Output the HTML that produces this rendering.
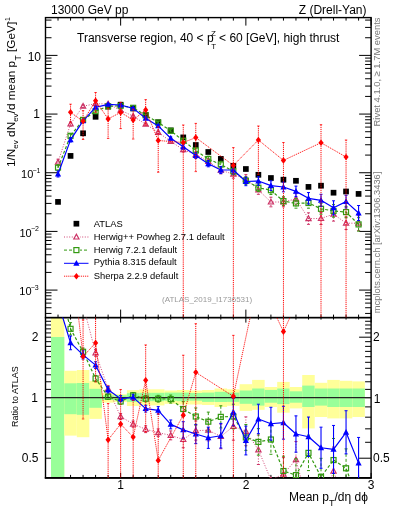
<!DOCTYPE html>
<html><head><meta charset="utf-8"><style>
html,body{margin:0;padding:0;background:#fff;width:393px;height:512px;overflow:hidden;position:relative;font-family:"Liberation Sans",sans-serif;}
</style></head><body>
<svg width="393" height="512" viewBox="0 0 393 512" style="position:absolute;left:0;top:0">
<defs><clipPath id="cm"><rect x="45.50" y="17.60" width="325.60" height="300.00"/></clipPath>
<clipPath id="cr"><rect x="45.50" y="317.60" width="325.60" height="160.30"/></clipPath></defs>
<line x1="45.50" y1="313.43" x2="51.50" y2="313.43" stroke="#000" stroke-width="1.00"/>
<line x1="371.10" y1="313.43" x2="365.10" y2="313.43" stroke="#000" stroke-width="1.00"/>
<line x1="45.50" y1="307.74" x2="51.50" y2="307.74" stroke="#000" stroke-width="1.00"/>
<line x1="371.10" y1="307.74" x2="365.10" y2="307.74" stroke="#000" stroke-width="1.00"/>
<line x1="45.50" y1="303.10" x2="51.50" y2="303.10" stroke="#000" stroke-width="1.00"/>
<line x1="371.10" y1="303.10" x2="365.10" y2="303.10" stroke="#000" stroke-width="1.00"/>
<line x1="45.50" y1="299.17" x2="51.50" y2="299.17" stroke="#000" stroke-width="1.00"/>
<line x1="371.10" y1="299.17" x2="365.10" y2="299.17" stroke="#000" stroke-width="1.00"/>
<line x1="45.50" y1="295.77" x2="51.50" y2="295.77" stroke="#000" stroke-width="1.00"/>
<line x1="371.10" y1="295.77" x2="365.10" y2="295.77" stroke="#000" stroke-width="1.00"/>
<line x1="45.50" y1="292.76" x2="51.50" y2="292.76" stroke="#000" stroke-width="1.00"/>
<line x1="371.10" y1="292.76" x2="365.10" y2="292.76" stroke="#000" stroke-width="1.00"/>
<line x1="45.50" y1="290.08" x2="57.50" y2="290.08" stroke="#000" stroke-width="1.00"/>
<line x1="371.10" y1="290.08" x2="359.10" y2="290.08" stroke="#000" stroke-width="1.00"/>
<line x1="45.50" y1="272.42" x2="51.50" y2="272.42" stroke="#000" stroke-width="1.00"/>
<line x1="371.10" y1="272.42" x2="365.10" y2="272.42" stroke="#000" stroke-width="1.00"/>
<line x1="45.50" y1="262.09" x2="51.50" y2="262.09" stroke="#000" stroke-width="1.00"/>
<line x1="371.10" y1="262.09" x2="365.10" y2="262.09" stroke="#000" stroke-width="1.00"/>
<line x1="45.50" y1="254.76" x2="51.50" y2="254.76" stroke="#000" stroke-width="1.00"/>
<line x1="371.10" y1="254.76" x2="365.10" y2="254.76" stroke="#000" stroke-width="1.00"/>
<line x1="45.50" y1="249.07" x2="51.50" y2="249.07" stroke="#000" stroke-width="1.00"/>
<line x1="371.10" y1="249.07" x2="365.10" y2="249.07" stroke="#000" stroke-width="1.00"/>
<line x1="45.50" y1="244.43" x2="51.50" y2="244.43" stroke="#000" stroke-width="1.00"/>
<line x1="371.10" y1="244.43" x2="365.10" y2="244.43" stroke="#000" stroke-width="1.00"/>
<line x1="45.50" y1="240.50" x2="51.50" y2="240.50" stroke="#000" stroke-width="1.00"/>
<line x1="371.10" y1="240.50" x2="365.10" y2="240.50" stroke="#000" stroke-width="1.00"/>
<line x1="45.50" y1="237.10" x2="51.50" y2="237.10" stroke="#000" stroke-width="1.00"/>
<line x1="371.10" y1="237.10" x2="365.10" y2="237.10" stroke="#000" stroke-width="1.00"/>
<line x1="45.50" y1="234.09" x2="51.50" y2="234.09" stroke="#000" stroke-width="1.00"/>
<line x1="371.10" y1="234.09" x2="365.10" y2="234.09" stroke="#000" stroke-width="1.00"/>
<line x1="45.50" y1="231.41" x2="57.50" y2="231.41" stroke="#000" stroke-width="1.00"/>
<line x1="371.10" y1="231.41" x2="359.10" y2="231.41" stroke="#000" stroke-width="1.00"/>
<line x1="45.50" y1="213.75" x2="51.50" y2="213.75" stroke="#000" stroke-width="1.00"/>
<line x1="371.10" y1="213.75" x2="365.10" y2="213.75" stroke="#000" stroke-width="1.00"/>
<line x1="45.50" y1="203.42" x2="51.50" y2="203.42" stroke="#000" stroke-width="1.00"/>
<line x1="371.10" y1="203.42" x2="365.10" y2="203.42" stroke="#000" stroke-width="1.00"/>
<line x1="45.50" y1="196.09" x2="51.50" y2="196.09" stroke="#000" stroke-width="1.00"/>
<line x1="371.10" y1="196.09" x2="365.10" y2="196.09" stroke="#000" stroke-width="1.00"/>
<line x1="45.50" y1="190.40" x2="51.50" y2="190.40" stroke="#000" stroke-width="1.00"/>
<line x1="371.10" y1="190.40" x2="365.10" y2="190.40" stroke="#000" stroke-width="1.00"/>
<line x1="45.50" y1="185.76" x2="51.50" y2="185.76" stroke="#000" stroke-width="1.00"/>
<line x1="371.10" y1="185.76" x2="365.10" y2="185.76" stroke="#000" stroke-width="1.00"/>
<line x1="45.50" y1="181.83" x2="51.50" y2="181.83" stroke="#000" stroke-width="1.00"/>
<line x1="371.10" y1="181.83" x2="365.10" y2="181.83" stroke="#000" stroke-width="1.00"/>
<line x1="45.50" y1="178.43" x2="51.50" y2="178.43" stroke="#000" stroke-width="1.00"/>
<line x1="371.10" y1="178.43" x2="365.10" y2="178.43" stroke="#000" stroke-width="1.00"/>
<line x1="45.50" y1="175.42" x2="51.50" y2="175.42" stroke="#000" stroke-width="1.00"/>
<line x1="371.10" y1="175.42" x2="365.10" y2="175.42" stroke="#000" stroke-width="1.00"/>
<line x1="45.50" y1="172.74" x2="57.50" y2="172.74" stroke="#000" stroke-width="1.00"/>
<line x1="371.10" y1="172.74" x2="359.10" y2="172.74" stroke="#000" stroke-width="1.00"/>
<line x1="45.50" y1="155.08" x2="51.50" y2="155.08" stroke="#000" stroke-width="1.00"/>
<line x1="371.10" y1="155.08" x2="365.10" y2="155.08" stroke="#000" stroke-width="1.00"/>
<line x1="45.50" y1="144.75" x2="51.50" y2="144.75" stroke="#000" stroke-width="1.00"/>
<line x1="371.10" y1="144.75" x2="365.10" y2="144.75" stroke="#000" stroke-width="1.00"/>
<line x1="45.50" y1="137.42" x2="51.50" y2="137.42" stroke="#000" stroke-width="1.00"/>
<line x1="371.10" y1="137.42" x2="365.10" y2="137.42" stroke="#000" stroke-width="1.00"/>
<line x1="45.50" y1="131.73" x2="51.50" y2="131.73" stroke="#000" stroke-width="1.00"/>
<line x1="371.10" y1="131.73" x2="365.10" y2="131.73" stroke="#000" stroke-width="1.00"/>
<line x1="45.50" y1="127.09" x2="51.50" y2="127.09" stroke="#000" stroke-width="1.00"/>
<line x1="371.10" y1="127.09" x2="365.10" y2="127.09" stroke="#000" stroke-width="1.00"/>
<line x1="45.50" y1="123.16" x2="51.50" y2="123.16" stroke="#000" stroke-width="1.00"/>
<line x1="371.10" y1="123.16" x2="365.10" y2="123.16" stroke="#000" stroke-width="1.00"/>
<line x1="45.50" y1="119.76" x2="51.50" y2="119.76" stroke="#000" stroke-width="1.00"/>
<line x1="371.10" y1="119.76" x2="365.10" y2="119.76" stroke="#000" stroke-width="1.00"/>
<line x1="45.50" y1="116.75" x2="51.50" y2="116.75" stroke="#000" stroke-width="1.00"/>
<line x1="371.10" y1="116.75" x2="365.10" y2="116.75" stroke="#000" stroke-width="1.00"/>
<line x1="45.50" y1="114.07" x2="57.50" y2="114.07" stroke="#000" stroke-width="1.00"/>
<line x1="371.10" y1="114.07" x2="359.10" y2="114.07" stroke="#000" stroke-width="1.00"/>
<line x1="45.50" y1="96.41" x2="51.50" y2="96.41" stroke="#000" stroke-width="1.00"/>
<line x1="371.10" y1="96.41" x2="365.10" y2="96.41" stroke="#000" stroke-width="1.00"/>
<line x1="45.50" y1="86.08" x2="51.50" y2="86.08" stroke="#000" stroke-width="1.00"/>
<line x1="371.10" y1="86.08" x2="365.10" y2="86.08" stroke="#000" stroke-width="1.00"/>
<line x1="45.50" y1="78.75" x2="51.50" y2="78.75" stroke="#000" stroke-width="1.00"/>
<line x1="371.10" y1="78.75" x2="365.10" y2="78.75" stroke="#000" stroke-width="1.00"/>
<line x1="45.50" y1="73.06" x2="51.50" y2="73.06" stroke="#000" stroke-width="1.00"/>
<line x1="371.10" y1="73.06" x2="365.10" y2="73.06" stroke="#000" stroke-width="1.00"/>
<line x1="45.50" y1="68.42" x2="51.50" y2="68.42" stroke="#000" stroke-width="1.00"/>
<line x1="371.10" y1="68.42" x2="365.10" y2="68.42" stroke="#000" stroke-width="1.00"/>
<line x1="45.50" y1="64.49" x2="51.50" y2="64.49" stroke="#000" stroke-width="1.00"/>
<line x1="371.10" y1="64.49" x2="365.10" y2="64.49" stroke="#000" stroke-width="1.00"/>
<line x1="45.50" y1="61.09" x2="51.50" y2="61.09" stroke="#000" stroke-width="1.00"/>
<line x1="371.10" y1="61.09" x2="365.10" y2="61.09" stroke="#000" stroke-width="1.00"/>
<line x1="45.50" y1="58.08" x2="51.50" y2="58.08" stroke="#000" stroke-width="1.00"/>
<line x1="371.10" y1="58.08" x2="365.10" y2="58.08" stroke="#000" stroke-width="1.00"/>
<line x1="45.50" y1="55.40" x2="57.50" y2="55.40" stroke="#000" stroke-width="1.00"/>
<line x1="371.10" y1="55.40" x2="359.10" y2="55.40" stroke="#000" stroke-width="1.00"/>
<line x1="45.50" y1="37.74" x2="51.50" y2="37.74" stroke="#000" stroke-width="1.00"/>
<line x1="371.10" y1="37.74" x2="365.10" y2="37.74" stroke="#000" stroke-width="1.00"/>
<line x1="45.50" y1="27.41" x2="51.50" y2="27.41" stroke="#000" stroke-width="1.00"/>
<line x1="371.10" y1="27.41" x2="365.10" y2="27.41" stroke="#000" stroke-width="1.00"/>
<line x1="45.50" y1="20.08" x2="51.50" y2="20.08" stroke="#000" stroke-width="1.00"/>
<line x1="371.10" y1="20.08" x2="365.10" y2="20.08" stroke="#000" stroke-width="1.00"/>
<line x1="45.50" y1="458.21" x2="57.50" y2="458.21" stroke="#000" stroke-width="1.00"/>
<line x1="371.10" y1="458.21" x2="359.10" y2="458.21" stroke="#000" stroke-width="1.00"/>
<line x1="45.50" y1="442.29" x2="51.50" y2="442.29" stroke="#000" stroke-width="1.00"/>
<line x1="371.10" y1="442.29" x2="365.10" y2="442.29" stroke="#000" stroke-width="1.00"/>
<line x1="45.50" y1="428.84" x2="51.50" y2="428.84" stroke="#000" stroke-width="1.00"/>
<line x1="371.10" y1="428.84" x2="365.10" y2="428.84" stroke="#000" stroke-width="1.00"/>
<line x1="45.50" y1="417.18" x2="51.50" y2="417.18" stroke="#000" stroke-width="1.00"/>
<line x1="371.10" y1="417.18" x2="365.10" y2="417.18" stroke="#000" stroke-width="1.00"/>
<line x1="45.50" y1="406.90" x2="51.50" y2="406.90" stroke="#000" stroke-width="1.00"/>
<line x1="371.10" y1="406.90" x2="365.10" y2="406.90" stroke="#000" stroke-width="1.00"/>
<line x1="45.50" y1="397.70" x2="57.50" y2="397.70" stroke="#000" stroke-width="1.00"/>
<line x1="371.10" y1="397.70" x2="359.10" y2="397.70" stroke="#000" stroke-width="1.00"/>
<line x1="45.50" y1="389.38" x2="51.50" y2="389.38" stroke="#000" stroke-width="1.00"/>
<line x1="371.10" y1="389.38" x2="365.10" y2="389.38" stroke="#000" stroke-width="1.00"/>
<line x1="45.50" y1="381.78" x2="51.50" y2="381.78" stroke="#000" stroke-width="1.00"/>
<line x1="371.10" y1="381.78" x2="365.10" y2="381.78" stroke="#000" stroke-width="1.00"/>
<line x1="45.50" y1="374.80" x2="51.50" y2="374.80" stroke="#000" stroke-width="1.00"/>
<line x1="371.10" y1="374.80" x2="365.10" y2="374.80" stroke="#000" stroke-width="1.00"/>
<line x1="45.50" y1="368.33" x2="51.50" y2="368.33" stroke="#000" stroke-width="1.00"/>
<line x1="371.10" y1="368.33" x2="365.10" y2="368.33" stroke="#000" stroke-width="1.00"/>
<line x1="45.50" y1="362.31" x2="51.50" y2="362.31" stroke="#000" stroke-width="1.00"/>
<line x1="371.10" y1="362.31" x2="365.10" y2="362.31" stroke="#000" stroke-width="1.00"/>
<line x1="45.50" y1="356.67" x2="51.50" y2="356.67" stroke="#000" stroke-width="1.00"/>
<line x1="371.10" y1="356.67" x2="365.10" y2="356.67" stroke="#000" stroke-width="1.00"/>
<line x1="45.50" y1="351.38" x2="51.50" y2="351.38" stroke="#000" stroke-width="1.00"/>
<line x1="371.10" y1="351.38" x2="365.10" y2="351.38" stroke="#000" stroke-width="1.00"/>
<line x1="45.50" y1="346.39" x2="51.50" y2="346.39" stroke="#000" stroke-width="1.00"/>
<line x1="371.10" y1="346.39" x2="365.10" y2="346.39" stroke="#000" stroke-width="1.00"/>
<line x1="45.50" y1="341.67" x2="51.50" y2="341.67" stroke="#000" stroke-width="1.00"/>
<line x1="371.10" y1="341.67" x2="365.10" y2="341.67" stroke="#000" stroke-width="1.00"/>
<line x1="45.50" y1="337.19" x2="57.50" y2="337.19" stroke="#000" stroke-width="1.00"/>
<line x1="371.10" y1="337.19" x2="359.10" y2="337.19" stroke="#000" stroke-width="1.00"/>
<line x1="45.50" y1="332.93" x2="51.50" y2="332.93" stroke="#000" stroke-width="1.00"/>
<line x1="371.10" y1="332.93" x2="365.10" y2="332.93" stroke="#000" stroke-width="1.00"/>
<line x1="45.50" y1="328.87" x2="51.50" y2="328.87" stroke="#000" stroke-width="1.00"/>
<line x1="371.10" y1="328.87" x2="365.10" y2="328.87" stroke="#000" stroke-width="1.00"/>
<line x1="45.50" y1="324.99" x2="51.50" y2="324.99" stroke="#000" stroke-width="1.00"/>
<line x1="371.10" y1="324.99" x2="365.10" y2="324.99" stroke="#000" stroke-width="1.00"/>
<line x1="45.50" y1="321.28" x2="51.50" y2="321.28" stroke="#000" stroke-width="1.00"/>
<line x1="371.10" y1="321.28" x2="365.10" y2="321.28" stroke="#000" stroke-width="1.00"/>
<line x1="45.50" y1="17.60" x2="45.50" y2="20.60" stroke="#000" stroke-width="1.00"/>
<line x1="45.50" y1="317.60" x2="45.50" y2="314.60" stroke="#000" stroke-width="1.00"/>
<line x1="45.50" y1="317.60" x2="45.50" y2="319.60" stroke="#000" stroke-width="1.00"/>
<line x1="45.50" y1="477.90" x2="45.50" y2="474.90" stroke="#000" stroke-width="1.00"/>
<line x1="58.02" y1="17.60" x2="58.02" y2="20.60" stroke="#000" stroke-width="1.00"/>
<line x1="58.02" y1="317.60" x2="58.02" y2="314.60" stroke="#000" stroke-width="1.00"/>
<line x1="58.02" y1="317.60" x2="58.02" y2="319.60" stroke="#000" stroke-width="1.00"/>
<line x1="58.02" y1="477.90" x2="58.02" y2="474.90" stroke="#000" stroke-width="1.00"/>
<line x1="70.55" y1="17.60" x2="70.55" y2="20.60" stroke="#000" stroke-width="1.00"/>
<line x1="70.55" y1="317.60" x2="70.55" y2="314.60" stroke="#000" stroke-width="1.00"/>
<line x1="70.55" y1="317.60" x2="70.55" y2="319.60" stroke="#000" stroke-width="1.00"/>
<line x1="70.55" y1="477.90" x2="70.55" y2="474.90" stroke="#000" stroke-width="1.00"/>
<line x1="83.07" y1="17.60" x2="83.07" y2="20.60" stroke="#000" stroke-width="1.00"/>
<line x1="83.07" y1="317.60" x2="83.07" y2="314.60" stroke="#000" stroke-width="1.00"/>
<line x1="83.07" y1="317.60" x2="83.07" y2="319.60" stroke="#000" stroke-width="1.00"/>
<line x1="83.07" y1="477.90" x2="83.07" y2="474.90" stroke="#000" stroke-width="1.00"/>
<line x1="95.59" y1="17.60" x2="95.59" y2="20.60" stroke="#000" stroke-width="1.00"/>
<line x1="95.59" y1="317.60" x2="95.59" y2="314.60" stroke="#000" stroke-width="1.00"/>
<line x1="95.59" y1="317.60" x2="95.59" y2="319.60" stroke="#000" stroke-width="1.00"/>
<line x1="95.59" y1="477.90" x2="95.59" y2="474.90" stroke="#000" stroke-width="1.00"/>
<line x1="108.12" y1="17.60" x2="108.12" y2="20.60" stroke="#000" stroke-width="1.00"/>
<line x1="108.12" y1="317.60" x2="108.12" y2="314.60" stroke="#000" stroke-width="1.00"/>
<line x1="108.12" y1="317.60" x2="108.12" y2="319.60" stroke="#000" stroke-width="1.00"/>
<line x1="108.12" y1="477.90" x2="108.12" y2="474.90" stroke="#000" stroke-width="1.00"/>
<line x1="120.64" y1="17.60" x2="120.64" y2="25.60" stroke="#000" stroke-width="1.00"/>
<line x1="120.64" y1="317.60" x2="120.64" y2="309.60" stroke="#000" stroke-width="1.00"/>
<line x1="120.64" y1="317.60" x2="120.64" y2="322.60" stroke="#000" stroke-width="1.00"/>
<line x1="120.64" y1="477.90" x2="120.64" y2="472.90" stroke="#000" stroke-width="1.00"/>
<line x1="133.16" y1="17.60" x2="133.16" y2="20.60" stroke="#000" stroke-width="1.00"/>
<line x1="133.16" y1="317.60" x2="133.16" y2="314.60" stroke="#000" stroke-width="1.00"/>
<line x1="133.16" y1="317.60" x2="133.16" y2="319.60" stroke="#000" stroke-width="1.00"/>
<line x1="133.16" y1="477.90" x2="133.16" y2="474.90" stroke="#000" stroke-width="1.00"/>
<line x1="145.68" y1="17.60" x2="145.68" y2="20.60" stroke="#000" stroke-width="1.00"/>
<line x1="145.68" y1="317.60" x2="145.68" y2="314.60" stroke="#000" stroke-width="1.00"/>
<line x1="145.68" y1="317.60" x2="145.68" y2="319.60" stroke="#000" stroke-width="1.00"/>
<line x1="145.68" y1="477.90" x2="145.68" y2="474.90" stroke="#000" stroke-width="1.00"/>
<line x1="158.21" y1="17.60" x2="158.21" y2="20.60" stroke="#000" stroke-width="1.00"/>
<line x1="158.21" y1="317.60" x2="158.21" y2="314.60" stroke="#000" stroke-width="1.00"/>
<line x1="158.21" y1="317.60" x2="158.21" y2="319.60" stroke="#000" stroke-width="1.00"/>
<line x1="158.21" y1="477.90" x2="158.21" y2="474.90" stroke="#000" stroke-width="1.00"/>
<line x1="170.73" y1="17.60" x2="170.73" y2="20.60" stroke="#000" stroke-width="1.00"/>
<line x1="170.73" y1="317.60" x2="170.73" y2="314.60" stroke="#000" stroke-width="1.00"/>
<line x1="170.73" y1="317.60" x2="170.73" y2="319.60" stroke="#000" stroke-width="1.00"/>
<line x1="170.73" y1="477.90" x2="170.73" y2="474.90" stroke="#000" stroke-width="1.00"/>
<line x1="183.25" y1="17.60" x2="183.25" y2="20.60" stroke="#000" stroke-width="1.00"/>
<line x1="183.25" y1="317.60" x2="183.25" y2="314.60" stroke="#000" stroke-width="1.00"/>
<line x1="183.25" y1="317.60" x2="183.25" y2="319.60" stroke="#000" stroke-width="1.00"/>
<line x1="183.25" y1="477.90" x2="183.25" y2="474.90" stroke="#000" stroke-width="1.00"/>
<line x1="195.78" y1="17.60" x2="195.78" y2="20.60" stroke="#000" stroke-width="1.00"/>
<line x1="195.78" y1="317.60" x2="195.78" y2="314.60" stroke="#000" stroke-width="1.00"/>
<line x1="195.78" y1="317.60" x2="195.78" y2="319.60" stroke="#000" stroke-width="1.00"/>
<line x1="195.78" y1="477.90" x2="195.78" y2="474.90" stroke="#000" stroke-width="1.00"/>
<line x1="208.30" y1="17.60" x2="208.30" y2="20.60" stroke="#000" stroke-width="1.00"/>
<line x1="208.30" y1="317.60" x2="208.30" y2="314.60" stroke="#000" stroke-width="1.00"/>
<line x1="208.30" y1="317.60" x2="208.30" y2="319.60" stroke="#000" stroke-width="1.00"/>
<line x1="208.30" y1="477.90" x2="208.30" y2="474.90" stroke="#000" stroke-width="1.00"/>
<line x1="220.82" y1="17.60" x2="220.82" y2="20.60" stroke="#000" stroke-width="1.00"/>
<line x1="220.82" y1="317.60" x2="220.82" y2="314.60" stroke="#000" stroke-width="1.00"/>
<line x1="220.82" y1="317.60" x2="220.82" y2="319.60" stroke="#000" stroke-width="1.00"/>
<line x1="220.82" y1="477.90" x2="220.82" y2="474.90" stroke="#000" stroke-width="1.00"/>
<line x1="233.35" y1="17.60" x2="233.35" y2="20.60" stroke="#000" stroke-width="1.00"/>
<line x1="233.35" y1="317.60" x2="233.35" y2="314.60" stroke="#000" stroke-width="1.00"/>
<line x1="233.35" y1="317.60" x2="233.35" y2="319.60" stroke="#000" stroke-width="1.00"/>
<line x1="233.35" y1="477.90" x2="233.35" y2="474.90" stroke="#000" stroke-width="1.00"/>
<line x1="245.87" y1="17.60" x2="245.87" y2="25.60" stroke="#000" stroke-width="1.00"/>
<line x1="245.87" y1="317.60" x2="245.87" y2="309.60" stroke="#000" stroke-width="1.00"/>
<line x1="245.87" y1="317.60" x2="245.87" y2="322.60" stroke="#000" stroke-width="1.00"/>
<line x1="245.87" y1="477.90" x2="245.87" y2="472.90" stroke="#000" stroke-width="1.00"/>
<line x1="258.39" y1="17.60" x2="258.39" y2="20.60" stroke="#000" stroke-width="1.00"/>
<line x1="258.39" y1="317.60" x2="258.39" y2="314.60" stroke="#000" stroke-width="1.00"/>
<line x1="258.39" y1="317.60" x2="258.39" y2="319.60" stroke="#000" stroke-width="1.00"/>
<line x1="258.39" y1="477.90" x2="258.39" y2="474.90" stroke="#000" stroke-width="1.00"/>
<line x1="270.92" y1="17.60" x2="270.92" y2="20.60" stroke="#000" stroke-width="1.00"/>
<line x1="270.92" y1="317.60" x2="270.92" y2="314.60" stroke="#000" stroke-width="1.00"/>
<line x1="270.92" y1="317.60" x2="270.92" y2="319.60" stroke="#000" stroke-width="1.00"/>
<line x1="270.92" y1="477.90" x2="270.92" y2="474.90" stroke="#000" stroke-width="1.00"/>
<line x1="283.44" y1="17.60" x2="283.44" y2="20.60" stroke="#000" stroke-width="1.00"/>
<line x1="283.44" y1="317.60" x2="283.44" y2="314.60" stroke="#000" stroke-width="1.00"/>
<line x1="283.44" y1="317.60" x2="283.44" y2="319.60" stroke="#000" stroke-width="1.00"/>
<line x1="283.44" y1="477.90" x2="283.44" y2="474.90" stroke="#000" stroke-width="1.00"/>
<line x1="295.96" y1="17.60" x2="295.96" y2="20.60" stroke="#000" stroke-width="1.00"/>
<line x1="295.96" y1="317.60" x2="295.96" y2="314.60" stroke="#000" stroke-width="1.00"/>
<line x1="295.96" y1="317.60" x2="295.96" y2="319.60" stroke="#000" stroke-width="1.00"/>
<line x1="295.96" y1="477.90" x2="295.96" y2="474.90" stroke="#000" stroke-width="1.00"/>
<line x1="308.48" y1="17.60" x2="308.48" y2="20.60" stroke="#000" stroke-width="1.00"/>
<line x1="308.48" y1="317.60" x2="308.48" y2="314.60" stroke="#000" stroke-width="1.00"/>
<line x1="308.48" y1="317.60" x2="308.48" y2="319.60" stroke="#000" stroke-width="1.00"/>
<line x1="308.48" y1="477.90" x2="308.48" y2="474.90" stroke="#000" stroke-width="1.00"/>
<line x1="321.01" y1="17.60" x2="321.01" y2="20.60" stroke="#000" stroke-width="1.00"/>
<line x1="321.01" y1="317.60" x2="321.01" y2="314.60" stroke="#000" stroke-width="1.00"/>
<line x1="321.01" y1="317.60" x2="321.01" y2="319.60" stroke="#000" stroke-width="1.00"/>
<line x1="321.01" y1="477.90" x2="321.01" y2="474.90" stroke="#000" stroke-width="1.00"/>
<line x1="333.53" y1="17.60" x2="333.53" y2="20.60" stroke="#000" stroke-width="1.00"/>
<line x1="333.53" y1="317.60" x2="333.53" y2="314.60" stroke="#000" stroke-width="1.00"/>
<line x1="333.53" y1="317.60" x2="333.53" y2="319.60" stroke="#000" stroke-width="1.00"/>
<line x1="333.53" y1="477.90" x2="333.53" y2="474.90" stroke="#000" stroke-width="1.00"/>
<line x1="346.05" y1="17.60" x2="346.05" y2="20.60" stroke="#000" stroke-width="1.00"/>
<line x1="346.05" y1="317.60" x2="346.05" y2="314.60" stroke="#000" stroke-width="1.00"/>
<line x1="346.05" y1="317.60" x2="346.05" y2="319.60" stroke="#000" stroke-width="1.00"/>
<line x1="346.05" y1="477.90" x2="346.05" y2="474.90" stroke="#000" stroke-width="1.00"/>
<line x1="358.58" y1="17.60" x2="358.58" y2="20.60" stroke="#000" stroke-width="1.00"/>
<line x1="358.58" y1="317.60" x2="358.58" y2="314.60" stroke="#000" stroke-width="1.00"/>
<line x1="358.58" y1="317.60" x2="358.58" y2="319.60" stroke="#000" stroke-width="1.00"/>
<line x1="358.58" y1="477.90" x2="358.58" y2="474.90" stroke="#000" stroke-width="1.00"/>
<line x1="371.10" y1="17.60" x2="371.10" y2="25.60" stroke="#000" stroke-width="1.00"/>
<line x1="371.10" y1="317.60" x2="371.10" y2="309.60" stroke="#000" stroke-width="1.00"/>
<line x1="371.10" y1="317.60" x2="371.10" y2="322.60" stroke="#000" stroke-width="1.00"/>
<line x1="371.10" y1="477.90" x2="371.10" y2="472.90" stroke="#000" stroke-width="1.00"/>
<g clip-path="url(#cr)">
<rect x="51.00" y="317.60" width="13.28" height="160.30" fill="#ffff99"/>
<rect x="51.00" y="337.00" width="13.28" height="140.90" fill="#99ff99"/>
<rect x="64.28" y="370.80" width="12.52" height="64.80" fill="#ffff99"/>
<rect x="64.28" y="383.30" width="12.52" height="30.90" fill="#99ff99"/>
<rect x="76.81" y="370.00" width="12.52" height="67.20" fill="#ffff99"/>
<rect x="76.81" y="383.00" width="12.52" height="31.80" fill="#99ff99"/>
<rect x="89.33" y="380.90" width="12.52" height="38.00" fill="#ffff99"/>
<rect x="89.33" y="388.80" width="12.52" height="19.00" fill="#99ff99"/>
<rect x="101.85" y="393.00" width="12.52" height="9.60" fill="#ffff99"/>
<rect x="101.85" y="395.30" width="12.52" height="4.70" fill="#99ff99"/>
<rect x="114.38" y="394.20" width="12.52" height="7.70" fill="#ffff99"/>
<rect x="114.38" y="395.30" width="12.52" height="5.10" fill="#99ff99"/>
<rect x="126.90" y="390.20" width="12.52" height="15.80" fill="#ffff99"/>
<rect x="126.90" y="393.20" width="12.52" height="8.70" fill="#99ff99"/>
<rect x="139.42" y="389.30" width="12.52" height="16.10" fill="#ffff99"/>
<rect x="139.42" y="392.80" width="12.52" height="8.40" fill="#99ff99"/>
<rect x="151.95" y="389.30" width="12.52" height="16.10" fill="#ffff99"/>
<rect x="151.95" y="392.80" width="12.52" height="8.40" fill="#99ff99"/>
<rect x="164.47" y="390.50" width="12.52" height="13.30" fill="#ffff99"/>
<rect x="164.47" y="392.60" width="12.52" height="8.10" fill="#99ff99"/>
<rect x="176.99" y="390.00" width="12.52" height="14.50" fill="#ffff99"/>
<rect x="176.99" y="392.60" width="12.52" height="8.60" fill="#99ff99"/>
<rect x="189.52" y="390.50" width="12.52" height="14.00" fill="#ffff99"/>
<rect x="189.52" y="393.00" width="12.52" height="7.70" fill="#99ff99"/>
<rect x="202.04" y="390.00" width="12.52" height="15.00" fill="#ffff99"/>
<rect x="202.04" y="392.60" width="12.52" height="9.30" fill="#99ff99"/>
<rect x="214.56" y="388.50" width="12.52" height="18.50" fill="#ffff99"/>
<rect x="214.56" y="391.80" width="12.52" height="10.20" fill="#99ff99"/>
<rect x="227.08" y="389.30" width="12.52" height="16.50" fill="#ffff99"/>
<rect x="227.08" y="392.60" width="12.52" height="9.30" fill="#99ff99"/>
<rect x="239.61" y="384.20" width="12.52" height="26.70" fill="#ffff99"/>
<rect x="239.61" y="390.50" width="12.52" height="13.30" fill="#99ff99"/>
<rect x="252.13" y="379.90" width="12.52" height="29.90" fill="#ffff99"/>
<rect x="252.13" y="388.50" width="12.52" height="17.10" fill="#99ff99"/>
<rect x="264.65" y="387.00" width="12.52" height="20.00" fill="#ffff99"/>
<rect x="264.65" y="389.90" width="12.52" height="12.80" fill="#99ff99"/>
<rect x="277.18" y="381.90" width="12.52" height="30.80" fill="#ffff99"/>
<rect x="277.18" y="388.50" width="12.52" height="15.60" fill="#99ff99"/>
<rect x="289.70" y="387.00" width="12.52" height="21.40" fill="#ffff99"/>
<rect x="289.70" y="391.30" width="12.52" height="11.40" fill="#99ff99"/>
<rect x="302.22" y="375.00" width="12.52" height="53.40" fill="#ffff99"/>
<rect x="302.22" y="385.60" width="12.52" height="21.40" fill="#99ff99"/>
<rect x="314.75" y="382.80" width="12.52" height="34.20" fill="#ffff99"/>
<rect x="314.75" y="388.50" width="12.52" height="17.10" fill="#99ff99"/>
<rect x="327.27" y="379.90" width="12.52" height="38.50" fill="#ffff99"/>
<rect x="327.27" y="388.50" width="12.52" height="18.50" fill="#99ff99"/>
<rect x="339.79" y="380.80" width="12.52" height="37.60" fill="#ffff99"/>
<rect x="339.79" y="388.50" width="12.52" height="18.50" fill="#99ff99"/>
<rect x="352.32" y="381.40" width="12.52" height="35.60" fill="#ffff99"/>
<rect x="352.32" y="388.50" width="12.52" height="18.50" fill="#99ff99"/>
<line x1="45.50" y1="397.7" x2="371.10" y2="397.7" stroke="#222" stroke-width="1.2"/>
</g>
<rect x="45.50" y="17.60" width="325.60" height="300.00" fill="none" stroke="#000" stroke-width="1.4"/>
<rect x="45.50" y="317.60" width="325.60" height="160.30" fill="none" stroke="#000" stroke-width="1.4"/>
<line x1="44.80" y1="477.90" x2="371.80" y2="477.90" stroke="#000" stroke-width="1.8"/>
<g clip-path="url(#cm)"><rect x="55.17" y="199.05" width="5.7" height="5.7" fill="#000"/><rect x="67.70" y="153.05" width="5.7" height="5.7" fill="#000"/><rect x="80.22" y="130.45" width="5.7" height="5.7" fill="#000"/><rect x="92.74" y="113.95" width="5.7" height="5.7" fill="#000"/><rect x="105.27" y="103.75" width="5.7" height="5.7" fill="#000"/><rect x="117.79" y="101.85" width="5.7" height="5.7" fill="#000"/><rect x="130.31" y="105.65" width="5.7" height="5.7" fill="#000"/><rect x="142.83" y="112.15" width="5.7" height="5.7" fill="#000"/><rect x="155.36" y="119.35" width="5.7" height="5.7" fill="#000"/><rect x="167.88" y="127.55" width="5.7" height="5.7" fill="#000"/><rect x="180.40" y="134.55" width="5.7" height="5.7" fill="#000"/><rect x="192.93" y="142.15" width="5.7" height="5.7" fill="#000"/><rect x="205.45" y="149.15" width="5.7" height="5.7" fill="#000"/><rect x="217.97" y="156.05" width="5.7" height="5.7" fill="#000"/><rect x="230.50" y="162.95" width="5.7" height="5.7" fill="#000"/><rect x="243.02" y="166.15" width="5.7" height="5.7" fill="#000"/><rect x="255.54" y="171.95" width="5.7" height="5.7" fill="#000"/><rect x="268.07" y="175.15" width="5.7" height="5.7" fill="#000"/><rect x="280.59" y="176.85" width="5.7" height="5.7" fill="#000"/><rect x="293.11" y="177.95" width="5.7" height="5.7" fill="#000"/><rect x="305.63" y="184.05" width="5.7" height="5.7" fill="#000"/><rect x="318.16" y="182.85" width="5.7" height="5.7" fill="#000"/><rect x="330.68" y="189.85" width="5.7" height="5.7" fill="#000"/><rect x="343.20" y="188.65" width="5.7" height="5.7" fill="#000"/><rect x="355.73" y="191.05" width="5.7" height="5.7" fill="#000"/></g>
<g clip-path="url(#cm)"><polyline points="58.02,162.20 70.55,124.00 83.07,106.20 95.59,103.70 108.12,104.00 120.64,110.20 133.16,116.20 145.68,124.20 158.21,132.40 170.73,141.40 183.25,149.60 195.78,154.60 208.30,161.50 220.82,170.20 233.35,174.20 245.87,178.80 258.39,190.00 270.92,202.00 283.44,202.00 295.96,198.90 308.48,218.60 321.01,218.50 333.53,214.10 346.05,223.20 358.58,223.20" fill="none" stroke="#cc3366" stroke-width="0.90" stroke-dasharray="1,1.6" stroke-linejoin="round"/><line x1="58.02" y1="159.20" x2="58.02" y2="165.20" stroke="#cc3366" stroke-width="1.00" stroke-dasharray="1,1.6"/><line x1="56.52" y1="159.20" x2="59.52" y2="159.20" stroke="#cc3366" stroke-width="1.00"/><line x1="56.52" y1="165.20" x2="59.52" y2="165.20" stroke="#cc3366" stroke-width="1.00"/><line x1="70.55" y1="122.00" x2="70.55" y2="126.00" stroke="#cc3366" stroke-width="1.00" stroke-dasharray="1,1.6"/><line x1="69.05" y1="122.00" x2="72.05" y2="122.00" stroke="#cc3366" stroke-width="1.00"/><line x1="69.05" y1="126.00" x2="72.05" y2="126.00" stroke="#cc3366" stroke-width="1.00"/><line x1="83.07" y1="105.00" x2="83.07" y2="107.40" stroke="#cc3366" stroke-width="1.00" stroke-dasharray="1,1.6"/><line x1="81.57" y1="105.00" x2="84.57" y2="105.00" stroke="#cc3366" stroke-width="1.00"/><line x1="81.57" y1="107.40" x2="84.57" y2="107.40" stroke="#cc3366" stroke-width="1.00"/><line x1="95.59" y1="102.70" x2="95.59" y2="104.70" stroke="#cc3366" stroke-width="1.00" stroke-dasharray="1,1.6"/><line x1="94.09" y1="102.70" x2="97.09" y2="102.70" stroke="#cc3366" stroke-width="1.00"/><line x1="94.09" y1="104.70" x2="97.09" y2="104.70" stroke="#cc3366" stroke-width="1.00"/><line x1="108.12" y1="103.10" x2="108.12" y2="104.90" stroke="#cc3366" stroke-width="1.00" stroke-dasharray="1,1.6"/><line x1="106.62" y1="103.10" x2="109.62" y2="103.10" stroke="#cc3366" stroke-width="1.00"/><line x1="106.62" y1="104.90" x2="109.62" y2="104.90" stroke="#cc3366" stroke-width="1.00"/><line x1="120.64" y1="109.30" x2="120.64" y2="111.10" stroke="#cc3366" stroke-width="1.00" stroke-dasharray="1,1.6"/><line x1="119.14" y1="109.30" x2="122.14" y2="109.30" stroke="#cc3366" stroke-width="1.00"/><line x1="119.14" y1="111.10" x2="122.14" y2="111.10" stroke="#cc3366" stroke-width="1.00"/><line x1="133.16" y1="115.30" x2="133.16" y2="117.10" stroke="#cc3366" stroke-width="1.00" stroke-dasharray="1,1.6"/><line x1="131.66" y1="115.30" x2="134.66" y2="115.30" stroke="#cc3366" stroke-width="1.00"/><line x1="131.66" y1="117.10" x2="134.66" y2="117.10" stroke="#cc3366" stroke-width="1.00"/><line x1="145.68" y1="123.20" x2="145.68" y2="125.20" stroke="#cc3366" stroke-width="1.00" stroke-dasharray="1,1.6"/><line x1="144.18" y1="123.20" x2="147.18" y2="123.20" stroke="#cc3366" stroke-width="1.00"/><line x1="144.18" y1="125.20" x2="147.18" y2="125.20" stroke="#cc3366" stroke-width="1.00"/><line x1="158.21" y1="131.30" x2="158.21" y2="133.50" stroke="#cc3366" stroke-width="1.00" stroke-dasharray="1,1.6"/><line x1="156.71" y1="131.30" x2="159.71" y2="131.30" stroke="#cc3366" stroke-width="1.00"/><line x1="156.71" y1="133.50" x2="159.71" y2="133.50" stroke="#cc3366" stroke-width="1.00"/><line x1="170.73" y1="140.10" x2="170.73" y2="142.70" stroke="#cc3366" stroke-width="1.00" stroke-dasharray="1,1.6"/><line x1="169.23" y1="140.10" x2="172.23" y2="140.10" stroke="#cc3366" stroke-width="1.00"/><line x1="169.23" y1="142.70" x2="172.23" y2="142.70" stroke="#cc3366" stroke-width="1.00"/><line x1="183.25" y1="147.20" x2="183.25" y2="152.00" stroke="#cc3366" stroke-width="1.00" stroke-dasharray="1,1.6"/><line x1="181.75" y1="147.20" x2="184.75" y2="147.20" stroke="#cc3366" stroke-width="1.00"/><line x1="181.75" y1="152.00" x2="184.75" y2="152.00" stroke="#cc3366" stroke-width="1.00"/><line x1="195.78" y1="151.80" x2="195.78" y2="157.40" stroke="#cc3366" stroke-width="1.00" stroke-dasharray="1,1.6"/><line x1="194.28" y1="151.80" x2="197.28" y2="151.80" stroke="#cc3366" stroke-width="1.00"/><line x1="194.28" y1="157.40" x2="197.28" y2="157.40" stroke="#cc3366" stroke-width="1.00"/><line x1="208.30" y1="158.40" x2="208.30" y2="164.60" stroke="#cc3366" stroke-width="1.00" stroke-dasharray="1,1.6"/><line x1="206.80" y1="158.40" x2="209.80" y2="158.40" stroke="#cc3366" stroke-width="1.00"/><line x1="206.80" y1="164.60" x2="209.80" y2="164.60" stroke="#cc3366" stroke-width="1.00"/><line x1="220.82" y1="166.60" x2="220.82" y2="173.80" stroke="#cc3366" stroke-width="1.00" stroke-dasharray="1,1.6"/><line x1="219.32" y1="166.60" x2="222.32" y2="166.60" stroke="#cc3366" stroke-width="1.00"/><line x1="219.32" y1="173.80" x2="222.32" y2="173.80" stroke="#cc3366" stroke-width="1.00"/><line x1="233.35" y1="170.20" x2="233.35" y2="178.20" stroke="#cc3366" stroke-width="1.00" stroke-dasharray="1,1.6"/><line x1="231.85" y1="170.20" x2="234.85" y2="170.20" stroke="#cc3366" stroke-width="1.00"/><line x1="231.85" y1="178.20" x2="234.85" y2="178.20" stroke="#cc3366" stroke-width="1.00"/><line x1="245.87" y1="174.60" x2="245.87" y2="183.00" stroke="#cc3366" stroke-width="1.00" stroke-dasharray="1,1.6"/><line x1="244.37" y1="174.60" x2="247.37" y2="174.60" stroke="#cc3366" stroke-width="1.00"/><line x1="244.37" y1="183.00" x2="247.37" y2="183.00" stroke="#cc3366" stroke-width="1.00"/><line x1="258.39" y1="185.70" x2="258.39" y2="194.30" stroke="#cc3366" stroke-width="1.00" stroke-dasharray="1,1.6"/><line x1="256.89" y1="185.70" x2="259.89" y2="185.70" stroke="#cc3366" stroke-width="1.00"/><line x1="256.89" y1="194.30" x2="259.89" y2="194.30" stroke="#cc3366" stroke-width="1.00"/><line x1="270.92" y1="197.20" x2="270.92" y2="206.80" stroke="#cc3366" stroke-width="1.00" stroke-dasharray="1,1.6"/><line x1="269.42" y1="197.20" x2="272.42" y2="197.20" stroke="#cc3366" stroke-width="1.00"/><line x1="269.42" y1="206.80" x2="272.42" y2="206.80" stroke="#cc3366" stroke-width="1.00"/><line x1="283.44" y1="197.20" x2="283.44" y2="206.80" stroke="#cc3366" stroke-width="1.00" stroke-dasharray="1,1.6"/><line x1="281.94" y1="197.20" x2="284.94" y2="197.20" stroke="#cc3366" stroke-width="1.00"/><line x1="281.94" y1="206.80" x2="284.94" y2="206.80" stroke="#cc3366" stroke-width="1.00"/><line x1="295.96" y1="193.60" x2="295.96" y2="204.20" stroke="#cc3366" stroke-width="1.00" stroke-dasharray="1,1.6"/><line x1="294.46" y1="193.60" x2="297.46" y2="193.60" stroke="#cc3366" stroke-width="1.00"/><line x1="294.46" y1="204.20" x2="297.46" y2="204.20" stroke="#cc3366" stroke-width="1.00"/><line x1="308.48" y1="212.85" x2="308.48" y2="224.35" stroke="#cc3366" stroke-width="1.00" stroke-dasharray="1,1.6"/><line x1="306.98" y1="212.85" x2="309.98" y2="212.85" stroke="#cc3366" stroke-width="1.00"/><line x1="306.98" y1="224.35" x2="309.98" y2="224.35" stroke="#cc3366" stroke-width="1.00"/><line x1="321.01" y1="212.50" x2="321.01" y2="224.50" stroke="#cc3366" stroke-width="1.00" stroke-dasharray="1,1.6"/><line x1="319.51" y1="212.50" x2="322.51" y2="212.50" stroke="#cc3366" stroke-width="1.00"/><line x1="319.51" y1="224.50" x2="322.51" y2="224.50" stroke="#cc3366" stroke-width="1.00"/><line x1="333.53" y1="207.10" x2="333.53" y2="221.10" stroke="#cc3366" stroke-width="1.00" stroke-dasharray="1,1.6"/><line x1="332.03" y1="207.10" x2="335.03" y2="207.10" stroke="#cc3366" stroke-width="1.00"/><line x1="332.03" y1="221.10" x2="335.03" y2="221.10" stroke="#cc3366" stroke-width="1.00"/><line x1="346.05" y1="216.90" x2="346.05" y2="229.50" stroke="#cc3366" stroke-width="1.00" stroke-dasharray="1,1.6"/><line x1="344.55" y1="216.90" x2="347.55" y2="216.90" stroke="#cc3366" stroke-width="1.00"/><line x1="344.55" y1="229.50" x2="347.55" y2="229.50" stroke="#cc3366" stroke-width="1.00"/><line x1="358.58" y1="215.70" x2="358.58" y2="230.70" stroke="#cc3366" stroke-width="1.00" stroke-dasharray="1,1.6"/><line x1="357.08" y1="215.70" x2="360.08" y2="215.70" stroke="#cc3366" stroke-width="1.00"/><line x1="357.08" y1="230.70" x2="360.08" y2="230.70" stroke="#cc3366" stroke-width="1.00"/><path d="M55.42,164.22 L60.62,164.22 L58.02,159.42 Z" fill="none" stroke="#cc3366" stroke-width="1.2"/><path d="M67.95,126.02 L73.15,126.02 L70.55,121.22 Z" fill="none" stroke="#cc3366" stroke-width="1.2"/><path d="M80.47,108.22 L85.67,108.22 L83.07,103.42 Z" fill="none" stroke="#cc3366" stroke-width="1.2"/><path d="M92.99,105.72 L98.19,105.72 L95.59,100.92 Z" fill="none" stroke="#cc3366" stroke-width="1.2"/><path d="M105.52,106.02 L110.72,106.02 L108.12,101.22 Z" fill="none" stroke="#cc3366" stroke-width="1.2"/><path d="M118.04,112.22 L123.24,112.22 L120.64,107.42 Z" fill="none" stroke="#cc3366" stroke-width="1.2"/><path d="M130.56,118.22 L135.76,118.22 L133.16,113.42 Z" fill="none" stroke="#cc3366" stroke-width="1.2"/><path d="M143.08,126.22 L148.28,126.22 L145.68,121.42 Z" fill="none" stroke="#cc3366" stroke-width="1.2"/><path d="M155.61,134.42 L160.81,134.42 L158.21,129.62 Z" fill="none" stroke="#cc3366" stroke-width="1.2"/><path d="M168.13,143.42 L173.33,143.42 L170.73,138.62 Z" fill="none" stroke="#cc3366" stroke-width="1.2"/><path d="M180.65,151.62 L185.85,151.62 L183.25,146.82 Z" fill="none" stroke="#cc3366" stroke-width="1.2"/><path d="M193.18,156.62 L198.38,156.62 L195.78,151.82 Z" fill="none" stroke="#cc3366" stroke-width="1.2"/><path d="M205.70,163.52 L210.90,163.52 L208.30,158.72 Z" fill="none" stroke="#cc3366" stroke-width="1.2"/><path d="M218.22,172.22 L223.42,172.22 L220.82,167.42 Z" fill="none" stroke="#cc3366" stroke-width="1.2"/><path d="M230.75,176.22 L235.95,176.22 L233.35,171.42 Z" fill="none" stroke="#cc3366" stroke-width="1.2"/><path d="M243.27,180.82 L248.47,180.82 L245.87,176.02 Z" fill="none" stroke="#cc3366" stroke-width="1.2"/><path d="M255.79,192.02 L260.99,192.02 L258.39,187.22 Z" fill="none" stroke="#cc3366" stroke-width="1.2"/><path d="M268.32,204.02 L273.52,204.02 L270.92,199.22 Z" fill="none" stroke="#cc3366" stroke-width="1.2"/><path d="M280.84,204.02 L286.04,204.02 L283.44,199.22 Z" fill="none" stroke="#cc3366" stroke-width="1.2"/><path d="M293.36,200.92 L298.56,200.92 L295.96,196.12 Z" fill="none" stroke="#cc3366" stroke-width="1.2"/><path d="M305.88,220.62 L311.08,220.62 L308.48,215.82 Z" fill="none" stroke="#cc3366" stroke-width="1.2"/><path d="M318.41,220.52 L323.61,220.52 L321.01,215.72 Z" fill="none" stroke="#cc3366" stroke-width="1.2"/><path d="M330.93,216.12 L336.13,216.12 L333.53,211.32 Z" fill="none" stroke="#cc3366" stroke-width="1.2"/><path d="M343.45,225.22 L348.65,225.22 L346.05,220.42 Z" fill="none" stroke="#cc3366" stroke-width="1.2"/><path d="M355.98,225.22 L361.18,225.22 L358.58,220.42 Z" fill="none" stroke="#cc3366" stroke-width="1.2"/></g>
<g clip-path="url(#cm)"><polyline points="58.02,167.60 70.55,135.80 83.07,119.90 95.59,111.20 108.12,106.30 120.64,105.80 133.16,107.80 145.68,115.30 158.21,122.50 170.73,130.80 183.25,140.70 195.78,150.50 208.30,159.00 220.82,164.50 233.35,171.30 245.87,180.60 258.39,187.70 270.92,190.20 283.44,201.10 295.96,203.40 308.48,203.00 321.01,208.80 333.53,210.90 346.05,212.10 358.58,224.40" fill="none" stroke="#339911" stroke-width="1.20" stroke-dasharray="3,2" stroke-linejoin="round"/><line x1="58.02" y1="164.90" x2="58.02" y2="170.30" stroke="#339911" stroke-width="1.00" stroke-dasharray="3,2"/><line x1="56.52" y1="164.90" x2="59.52" y2="164.90" stroke="#339911" stroke-width="1.00"/><line x1="56.52" y1="170.30" x2="59.52" y2="170.30" stroke="#339911" stroke-width="1.00"/><line x1="70.55" y1="134.00" x2="70.55" y2="137.60" stroke="#339911" stroke-width="1.00" stroke-dasharray="3,2"/><line x1="69.05" y1="134.00" x2="72.05" y2="134.00" stroke="#339911" stroke-width="1.00"/><line x1="69.05" y1="137.60" x2="72.05" y2="137.60" stroke="#339911" stroke-width="1.00"/><line x1="83.07" y1="118.82" x2="83.07" y2="120.98" stroke="#339911" stroke-width="1.00" stroke-dasharray="3,2"/><line x1="81.57" y1="118.82" x2="84.57" y2="118.82" stroke="#339911" stroke-width="1.00"/><line x1="81.57" y1="120.98" x2="84.57" y2="120.98" stroke="#339911" stroke-width="1.00"/><line x1="95.59" y1="110.30" x2="95.59" y2="112.10" stroke="#339911" stroke-width="1.00" stroke-dasharray="3,2"/><line x1="94.09" y1="110.30" x2="97.09" y2="110.30" stroke="#339911" stroke-width="1.00"/><line x1="94.09" y1="112.10" x2="97.09" y2="112.10" stroke="#339911" stroke-width="1.00"/><line x1="108.12" y1="105.49" x2="108.12" y2="107.11" stroke="#339911" stroke-width="1.00" stroke-dasharray="3,2"/><line x1="106.62" y1="105.49" x2="109.62" y2="105.49" stroke="#339911" stroke-width="1.00"/><line x1="106.62" y1="107.11" x2="109.62" y2="107.11" stroke="#339911" stroke-width="1.00"/><line x1="120.64" y1="104.99" x2="120.64" y2="106.61" stroke="#339911" stroke-width="1.00" stroke-dasharray="3,2"/><line x1="119.14" y1="104.99" x2="122.14" y2="104.99" stroke="#339911" stroke-width="1.00"/><line x1="119.14" y1="106.61" x2="122.14" y2="106.61" stroke="#339911" stroke-width="1.00"/><line x1="133.16" y1="106.99" x2="133.16" y2="108.61" stroke="#339911" stroke-width="1.00" stroke-dasharray="3,2"/><line x1="131.66" y1="106.99" x2="134.66" y2="106.99" stroke="#339911" stroke-width="1.00"/><line x1="131.66" y1="108.61" x2="134.66" y2="108.61" stroke="#339911" stroke-width="1.00"/><line x1="145.68" y1="114.40" x2="145.68" y2="116.20" stroke="#339911" stroke-width="1.00" stroke-dasharray="3,2"/><line x1="144.18" y1="114.40" x2="147.18" y2="114.40" stroke="#339911" stroke-width="1.00"/><line x1="144.18" y1="116.20" x2="147.18" y2="116.20" stroke="#339911" stroke-width="1.00"/><line x1="158.21" y1="121.51" x2="158.21" y2="123.49" stroke="#339911" stroke-width="1.00" stroke-dasharray="3,2"/><line x1="156.71" y1="121.51" x2="159.71" y2="121.51" stroke="#339911" stroke-width="1.00"/><line x1="156.71" y1="123.49" x2="159.71" y2="123.49" stroke="#339911" stroke-width="1.00"/><line x1="170.73" y1="129.63" x2="170.73" y2="131.97" stroke="#339911" stroke-width="1.00" stroke-dasharray="3,2"/><line x1="169.23" y1="129.63" x2="172.23" y2="129.63" stroke="#339911" stroke-width="1.00"/><line x1="169.23" y1="131.97" x2="172.23" y2="131.97" stroke="#339911" stroke-width="1.00"/><line x1="183.25" y1="138.54" x2="183.25" y2="142.86" stroke="#339911" stroke-width="1.00" stroke-dasharray="3,2"/><line x1="181.75" y1="138.54" x2="184.75" y2="138.54" stroke="#339911" stroke-width="1.00"/><line x1="181.75" y1="142.86" x2="184.75" y2="142.86" stroke="#339911" stroke-width="1.00"/><line x1="195.78" y1="147.98" x2="195.78" y2="153.02" stroke="#339911" stroke-width="1.00" stroke-dasharray="3,2"/><line x1="194.28" y1="147.98" x2="197.28" y2="147.98" stroke="#339911" stroke-width="1.00"/><line x1="194.28" y1="153.02" x2="197.28" y2="153.02" stroke="#339911" stroke-width="1.00"/><line x1="208.30" y1="156.21" x2="208.30" y2="161.79" stroke="#339911" stroke-width="1.00" stroke-dasharray="3,2"/><line x1="206.80" y1="156.21" x2="209.80" y2="156.21" stroke="#339911" stroke-width="1.00"/><line x1="206.80" y1="161.79" x2="209.80" y2="161.79" stroke="#339911" stroke-width="1.00"/><line x1="220.82" y1="161.26" x2="220.82" y2="167.74" stroke="#339911" stroke-width="1.00" stroke-dasharray="3,2"/><line x1="219.32" y1="161.26" x2="222.32" y2="161.26" stroke="#339911" stroke-width="1.00"/><line x1="219.32" y1="167.74" x2="222.32" y2="167.74" stroke="#339911" stroke-width="1.00"/><line x1="233.35" y1="167.70" x2="233.35" y2="174.90" stroke="#339911" stroke-width="1.00" stroke-dasharray="3,2"/><line x1="231.85" y1="167.70" x2="234.85" y2="167.70" stroke="#339911" stroke-width="1.00"/><line x1="231.85" y1="174.90" x2="234.85" y2="174.90" stroke="#339911" stroke-width="1.00"/><line x1="245.87" y1="176.82" x2="245.87" y2="184.38" stroke="#339911" stroke-width="1.00" stroke-dasharray="3,2"/><line x1="244.37" y1="176.82" x2="247.37" y2="176.82" stroke="#339911" stroke-width="1.00"/><line x1="244.37" y1="184.38" x2="247.37" y2="184.38" stroke="#339911" stroke-width="1.00"/><line x1="258.39" y1="183.83" x2="258.39" y2="191.57" stroke="#339911" stroke-width="1.00" stroke-dasharray="3,2"/><line x1="256.89" y1="183.83" x2="259.89" y2="183.83" stroke="#339911" stroke-width="1.00"/><line x1="256.89" y1="191.57" x2="259.89" y2="191.57" stroke="#339911" stroke-width="1.00"/><line x1="270.92" y1="185.88" x2="270.92" y2="194.52" stroke="#339911" stroke-width="1.00" stroke-dasharray="3,2"/><line x1="269.42" y1="185.88" x2="272.42" y2="185.88" stroke="#339911" stroke-width="1.00"/><line x1="269.42" y1="194.52" x2="272.42" y2="194.52" stroke="#339911" stroke-width="1.00"/><line x1="283.44" y1="196.78" x2="283.44" y2="205.42" stroke="#339911" stroke-width="1.00" stroke-dasharray="3,2"/><line x1="281.94" y1="196.78" x2="284.94" y2="196.78" stroke="#339911" stroke-width="1.00"/><line x1="281.94" y1="205.42" x2="284.94" y2="205.42" stroke="#339911" stroke-width="1.00"/><line x1="295.96" y1="198.63" x2="295.96" y2="208.17" stroke="#339911" stroke-width="1.00" stroke-dasharray="3,2"/><line x1="294.46" y1="198.63" x2="297.46" y2="198.63" stroke="#339911" stroke-width="1.00"/><line x1="294.46" y1="208.17" x2="297.46" y2="208.17" stroke="#339911" stroke-width="1.00"/><line x1="308.48" y1="197.82" x2="308.48" y2="208.18" stroke="#339911" stroke-width="1.00" stroke-dasharray="3,2"/><line x1="306.98" y1="197.82" x2="309.98" y2="197.82" stroke="#339911" stroke-width="1.00"/><line x1="306.98" y1="208.18" x2="309.98" y2="208.18" stroke="#339911" stroke-width="1.00"/><line x1="321.01" y1="203.40" x2="321.01" y2="214.20" stroke="#339911" stroke-width="1.00" stroke-dasharray="3,2"/><line x1="319.51" y1="203.40" x2="322.51" y2="203.40" stroke="#339911" stroke-width="1.00"/><line x1="319.51" y1="214.20" x2="322.51" y2="214.20" stroke="#339911" stroke-width="1.00"/><line x1="333.53" y1="204.60" x2="333.53" y2="217.20" stroke="#339911" stroke-width="1.00" stroke-dasharray="3,2"/><line x1="332.03" y1="204.60" x2="335.03" y2="204.60" stroke="#339911" stroke-width="1.00"/><line x1="332.03" y1="217.20" x2="335.03" y2="217.20" stroke="#339911" stroke-width="1.00"/><line x1="346.05" y1="206.43" x2="346.05" y2="217.77" stroke="#339911" stroke-width="1.00" stroke-dasharray="3,2"/><line x1="344.55" y1="206.43" x2="347.55" y2="206.43" stroke="#339911" stroke-width="1.00"/><line x1="344.55" y1="217.77" x2="347.55" y2="217.77" stroke="#339911" stroke-width="1.00"/><line x1="358.58" y1="217.65" x2="358.58" y2="231.15" stroke="#339911" stroke-width="1.00" stroke-dasharray="3,2"/><line x1="357.08" y1="217.65" x2="360.08" y2="217.65" stroke="#339911" stroke-width="1.00"/><line x1="357.08" y1="231.15" x2="360.08" y2="231.15" stroke="#339911" stroke-width="1.00"/><rect x="55.52" y="165.10" width="5" height="5" fill="none" stroke="#339911" stroke-width="1.2"/><rect x="68.05" y="133.30" width="5" height="5" fill="none" stroke="#339911" stroke-width="1.2"/><rect x="80.57" y="117.40" width="5" height="5" fill="none" stroke="#339911" stroke-width="1.2"/><rect x="93.09" y="108.70" width="5" height="5" fill="none" stroke="#339911" stroke-width="1.2"/><rect x="105.62" y="103.80" width="5" height="5" fill="none" stroke="#339911" stroke-width="1.2"/><rect x="118.14" y="103.30" width="5" height="5" fill="none" stroke="#339911" stroke-width="1.2"/><rect x="130.66" y="105.30" width="5" height="5" fill="none" stroke="#339911" stroke-width="1.2"/><rect x="143.18" y="112.80" width="5" height="5" fill="none" stroke="#339911" stroke-width="1.2"/><rect x="155.71" y="120.00" width="5" height="5" fill="none" stroke="#339911" stroke-width="1.2"/><rect x="168.23" y="128.30" width="5" height="5" fill="none" stroke="#339911" stroke-width="1.2"/><rect x="180.75" y="138.20" width="5" height="5" fill="none" stroke="#339911" stroke-width="1.2"/><rect x="193.28" y="148.00" width="5" height="5" fill="none" stroke="#339911" stroke-width="1.2"/><rect x="205.80" y="156.50" width="5" height="5" fill="none" stroke="#339911" stroke-width="1.2"/><rect x="218.32" y="162.00" width="5" height="5" fill="none" stroke="#339911" stroke-width="1.2"/><rect x="230.85" y="168.80" width="5" height="5" fill="none" stroke="#339911" stroke-width="1.2"/><rect x="243.37" y="178.10" width="5" height="5" fill="none" stroke="#339911" stroke-width="1.2"/><rect x="255.89" y="185.20" width="5" height="5" fill="none" stroke="#339911" stroke-width="1.2"/><rect x="268.42" y="187.70" width="5" height="5" fill="none" stroke="#339911" stroke-width="1.2"/><rect x="280.94" y="198.60" width="5" height="5" fill="none" stroke="#339911" stroke-width="1.2"/><rect x="293.46" y="200.90" width="5" height="5" fill="none" stroke="#339911" stroke-width="1.2"/><rect x="305.98" y="200.50" width="5" height="5" fill="none" stroke="#339911" stroke-width="1.2"/><rect x="318.51" y="206.30" width="5" height="5" fill="none" stroke="#339911" stroke-width="1.2"/><rect x="331.03" y="208.40" width="5" height="5" fill="none" stroke="#339911" stroke-width="1.2"/><rect x="343.55" y="209.60" width="5" height="5" fill="none" stroke="#339911" stroke-width="1.2"/><rect x="356.08" y="221.90" width="5" height="5" fill="none" stroke="#339911" stroke-width="1.2"/></g>
<g clip-path="url(#cm)"><polyline points="58.02,174.00 70.55,139.90 83.07,120.80 95.59,107.30 108.12,104.30 120.64,105.00 133.16,108.40 145.68,118.20 158.21,125.90 170.73,138.20 183.25,146.80 195.78,155.60 208.30,163.70 220.82,170.00 233.35,170.00 245.87,181.50 258.39,181.00 270.92,185.60 283.44,187.00 295.96,191.40 308.48,198.30 321.01,200.30 333.53,207.80 346.05,201.60 358.58,213.00" fill="none" stroke="#0000ff" stroke-width="1.20" stroke-linejoin="round"/><line x1="58.02" y1="171.00" x2="58.02" y2="177.00" stroke="#0000ff" stroke-width="1.10"/><line x1="56.52" y1="171.00" x2="59.52" y2="171.00" stroke="#0000ff" stroke-width="1.00"/><line x1="56.52" y1="177.00" x2="59.52" y2="177.00" stroke="#0000ff" stroke-width="1.00"/><line x1="70.55" y1="137.90" x2="70.55" y2="141.90" stroke="#0000ff" stroke-width="1.10"/><line x1="69.05" y1="137.90" x2="72.05" y2="137.90" stroke="#0000ff" stroke-width="1.00"/><line x1="69.05" y1="141.90" x2="72.05" y2="141.90" stroke="#0000ff" stroke-width="1.00"/><line x1="83.07" y1="119.60" x2="83.07" y2="122.00" stroke="#0000ff" stroke-width="1.10"/><line x1="81.57" y1="119.60" x2="84.57" y2="119.60" stroke="#0000ff" stroke-width="1.00"/><line x1="81.57" y1="122.00" x2="84.57" y2="122.00" stroke="#0000ff" stroke-width="1.00"/><line x1="95.59" y1="106.30" x2="95.59" y2="108.30" stroke="#0000ff" stroke-width="1.10"/><line x1="94.09" y1="106.30" x2="97.09" y2="106.30" stroke="#0000ff" stroke-width="1.00"/><line x1="94.09" y1="108.30" x2="97.09" y2="108.30" stroke="#0000ff" stroke-width="1.00"/><line x1="108.12" y1="103.40" x2="108.12" y2="105.20" stroke="#0000ff" stroke-width="1.10"/><line x1="106.62" y1="103.40" x2="109.62" y2="103.40" stroke="#0000ff" stroke-width="1.00"/><line x1="106.62" y1="105.20" x2="109.62" y2="105.20" stroke="#0000ff" stroke-width="1.00"/><line x1="120.64" y1="104.10" x2="120.64" y2="105.90" stroke="#0000ff" stroke-width="1.10"/><line x1="119.14" y1="104.10" x2="122.14" y2="104.10" stroke="#0000ff" stroke-width="1.00"/><line x1="119.14" y1="105.90" x2="122.14" y2="105.90" stroke="#0000ff" stroke-width="1.00"/><line x1="133.16" y1="107.50" x2="133.16" y2="109.30" stroke="#0000ff" stroke-width="1.10"/><line x1="131.66" y1="107.50" x2="134.66" y2="107.50" stroke="#0000ff" stroke-width="1.00"/><line x1="131.66" y1="109.30" x2="134.66" y2="109.30" stroke="#0000ff" stroke-width="1.00"/><line x1="145.68" y1="117.20" x2="145.68" y2="119.20" stroke="#0000ff" stroke-width="1.10"/><line x1="144.18" y1="117.20" x2="147.18" y2="117.20" stroke="#0000ff" stroke-width="1.00"/><line x1="144.18" y1="119.20" x2="147.18" y2="119.20" stroke="#0000ff" stroke-width="1.00"/><line x1="158.21" y1="124.80" x2="158.21" y2="127.00" stroke="#0000ff" stroke-width="1.10"/><line x1="156.71" y1="124.80" x2="159.71" y2="124.80" stroke="#0000ff" stroke-width="1.00"/><line x1="156.71" y1="127.00" x2="159.71" y2="127.00" stroke="#0000ff" stroke-width="1.00"/><line x1="170.73" y1="136.90" x2="170.73" y2="139.50" stroke="#0000ff" stroke-width="1.10"/><line x1="169.23" y1="136.90" x2="172.23" y2="136.90" stroke="#0000ff" stroke-width="1.00"/><line x1="169.23" y1="139.50" x2="172.23" y2="139.50" stroke="#0000ff" stroke-width="1.00"/><line x1="183.25" y1="144.40" x2="183.25" y2="149.20" stroke="#0000ff" stroke-width="1.10"/><line x1="181.75" y1="144.40" x2="184.75" y2="144.40" stroke="#0000ff" stroke-width="1.00"/><line x1="181.75" y1="149.20" x2="184.75" y2="149.20" stroke="#0000ff" stroke-width="1.00"/><line x1="195.78" y1="152.80" x2="195.78" y2="158.40" stroke="#0000ff" stroke-width="1.10"/><line x1="194.28" y1="152.80" x2="197.28" y2="152.80" stroke="#0000ff" stroke-width="1.00"/><line x1="194.28" y1="158.40" x2="197.28" y2="158.40" stroke="#0000ff" stroke-width="1.00"/><line x1="208.30" y1="160.60" x2="208.30" y2="166.80" stroke="#0000ff" stroke-width="1.10"/><line x1="206.80" y1="160.60" x2="209.80" y2="160.60" stroke="#0000ff" stroke-width="1.00"/><line x1="206.80" y1="166.80" x2="209.80" y2="166.80" stroke="#0000ff" stroke-width="1.00"/><line x1="220.82" y1="166.40" x2="220.82" y2="173.60" stroke="#0000ff" stroke-width="1.10"/><line x1="219.32" y1="166.40" x2="222.32" y2="166.40" stroke="#0000ff" stroke-width="1.00"/><line x1="219.32" y1="173.60" x2="222.32" y2="173.60" stroke="#0000ff" stroke-width="1.00"/><line x1="233.35" y1="166.00" x2="233.35" y2="174.00" stroke="#0000ff" stroke-width="1.10"/><line x1="231.85" y1="166.00" x2="234.85" y2="166.00" stroke="#0000ff" stroke-width="1.00"/><line x1="231.85" y1="174.00" x2="234.85" y2="174.00" stroke="#0000ff" stroke-width="1.00"/><line x1="245.87" y1="177.30" x2="245.87" y2="185.70" stroke="#0000ff" stroke-width="1.10"/><line x1="244.37" y1="177.30" x2="247.37" y2="177.30" stroke="#0000ff" stroke-width="1.00"/><line x1="244.37" y1="185.70" x2="247.37" y2="185.70" stroke="#0000ff" stroke-width="1.00"/><line x1="258.39" y1="176.70" x2="258.39" y2="185.30" stroke="#0000ff" stroke-width="1.10"/><line x1="256.89" y1="176.70" x2="259.89" y2="176.70" stroke="#0000ff" stroke-width="1.00"/><line x1="256.89" y1="185.30" x2="259.89" y2="185.30" stroke="#0000ff" stroke-width="1.00"/><line x1="270.92" y1="180.80" x2="270.92" y2="190.40" stroke="#0000ff" stroke-width="1.10"/><line x1="269.42" y1="180.80" x2="272.42" y2="180.80" stroke="#0000ff" stroke-width="1.00"/><line x1="269.42" y1="190.40" x2="272.42" y2="190.40" stroke="#0000ff" stroke-width="1.00"/><line x1="283.44" y1="182.20" x2="283.44" y2="191.80" stroke="#0000ff" stroke-width="1.10"/><line x1="281.94" y1="182.20" x2="284.94" y2="182.20" stroke="#0000ff" stroke-width="1.00"/><line x1="281.94" y1="191.80" x2="284.94" y2="191.80" stroke="#0000ff" stroke-width="1.00"/><line x1="295.96" y1="186.10" x2="295.96" y2="196.70" stroke="#0000ff" stroke-width="1.10"/><line x1="294.46" y1="186.10" x2="297.46" y2="186.10" stroke="#0000ff" stroke-width="1.00"/><line x1="294.46" y1="196.70" x2="297.46" y2="196.70" stroke="#0000ff" stroke-width="1.00"/><line x1="308.48" y1="192.55" x2="308.48" y2="204.05" stroke="#0000ff" stroke-width="1.10"/><line x1="306.98" y1="192.55" x2="309.98" y2="192.55" stroke="#0000ff" stroke-width="1.00"/><line x1="306.98" y1="204.05" x2="309.98" y2="204.05" stroke="#0000ff" stroke-width="1.00"/><line x1="321.01" y1="194.30" x2="321.01" y2="206.30" stroke="#0000ff" stroke-width="1.10"/><line x1="319.51" y1="194.30" x2="322.51" y2="194.30" stroke="#0000ff" stroke-width="1.00"/><line x1="319.51" y1="206.30" x2="322.51" y2="206.30" stroke="#0000ff" stroke-width="1.00"/><line x1="333.53" y1="200.80" x2="333.53" y2="214.80" stroke="#0000ff" stroke-width="1.10"/><line x1="332.03" y1="200.80" x2="335.03" y2="200.80" stroke="#0000ff" stroke-width="1.00"/><line x1="332.03" y1="214.80" x2="335.03" y2="214.80" stroke="#0000ff" stroke-width="1.00"/><line x1="346.05" y1="195.30" x2="346.05" y2="207.90" stroke="#0000ff" stroke-width="1.10"/><line x1="344.55" y1="195.30" x2="347.55" y2="195.30" stroke="#0000ff" stroke-width="1.00"/><line x1="344.55" y1="207.90" x2="347.55" y2="207.90" stroke="#0000ff" stroke-width="1.00"/><line x1="358.58" y1="205.50" x2="358.58" y2="220.50" stroke="#0000ff" stroke-width="1.10"/><line x1="357.08" y1="205.50" x2="360.08" y2="205.50" stroke="#0000ff" stroke-width="1.00"/><line x1="357.08" y1="220.50" x2="360.08" y2="220.50" stroke="#0000ff" stroke-width="1.00"/><path d="M54.92,176.44 L61.12,176.44 L58.02,170.64 Z" fill="#0000ff"/><path d="M67.45,142.34 L73.65,142.34 L70.55,136.54 Z" fill="#0000ff"/><path d="M79.97,123.24 L86.17,123.24 L83.07,117.44 Z" fill="#0000ff"/><path d="M92.49,109.74 L98.69,109.74 L95.59,103.94 Z" fill="#0000ff"/><path d="M105.02,106.74 L111.22,106.74 L108.12,100.94 Z" fill="#0000ff"/><path d="M117.54,107.44 L123.74,107.44 L120.64,101.64 Z" fill="#0000ff"/><path d="M130.06,110.84 L136.26,110.84 L133.16,105.04 Z" fill="#0000ff"/><path d="M142.58,120.64 L148.78,120.64 L145.68,114.84 Z" fill="#0000ff"/><path d="M155.11,128.34 L161.31,128.34 L158.21,122.54 Z" fill="#0000ff"/><path d="M167.63,140.64 L173.83,140.64 L170.73,134.84 Z" fill="#0000ff"/><path d="M180.15,149.24 L186.35,149.24 L183.25,143.44 Z" fill="#0000ff"/><path d="M192.68,158.04 L198.88,158.04 L195.78,152.24 Z" fill="#0000ff"/><path d="M205.20,166.14 L211.40,166.14 L208.30,160.34 Z" fill="#0000ff"/><path d="M217.72,172.44 L223.92,172.44 L220.82,166.64 Z" fill="#0000ff"/><path d="M230.25,172.44 L236.45,172.44 L233.35,166.64 Z" fill="#0000ff"/><path d="M242.77,183.94 L248.97,183.94 L245.87,178.14 Z" fill="#0000ff"/><path d="M255.29,183.44 L261.49,183.44 L258.39,177.64 Z" fill="#0000ff"/><path d="M267.82,188.04 L274.02,188.04 L270.92,182.24 Z" fill="#0000ff"/><path d="M280.34,189.44 L286.54,189.44 L283.44,183.64 Z" fill="#0000ff"/><path d="M292.86,193.84 L299.06,193.84 L295.96,188.04 Z" fill="#0000ff"/><path d="M305.38,200.74 L311.58,200.74 L308.48,194.94 Z" fill="#0000ff"/><path d="M317.91,202.74 L324.11,202.74 L321.01,196.94 Z" fill="#0000ff"/><path d="M330.43,210.24 L336.63,210.24 L333.53,204.44 Z" fill="#0000ff"/><path d="M342.95,204.04 L349.15,204.04 L346.05,198.24 Z" fill="#0000ff"/><path d="M355.48,215.44 L361.68,215.44 L358.58,209.64 Z" fill="#0000ff"/></g>
<g clip-path="url(#cm)"><polyline points="70.55,112.30 83.07,121.30 95.59,100.80 108.12,118.90 120.64,112.40 133.16,120.00 145.68,109.90 158.21,140.50 183.25,142.50 195.78,137.60 233.35,165.40 258.39,140.00 283.44,160.40 321.01,142.70 346.05,157.00" fill="none" stroke="#ff0000" stroke-width="0.90" stroke-dasharray="1.2,0.9" stroke-linejoin="round"/><line x1="70.55" y1="104.20" x2="70.55" y2="123.00" stroke="#ff0000" stroke-width="1.00" stroke-dasharray="1.2,0.9"/><line x1="69.35" y1="104.20" x2="71.75" y2="104.20" stroke="#ff0000" stroke-width="0.80"/><line x1="69.35" y1="123.00" x2="71.75" y2="123.00" stroke="#ff0000" stroke-width="0.80"/><line x1="83.07" y1="110.60" x2="83.07" y2="139.50" stroke="#ff0000" stroke-width="1.00" stroke-dasharray="1.2,0.9"/><line x1="81.87" y1="110.60" x2="84.27" y2="110.60" stroke="#ff0000" stroke-width="0.80"/><line x1="81.87" y1="139.50" x2="84.27" y2="139.50" stroke="#ff0000" stroke-width="0.80"/><line x1="95.59" y1="92.50" x2="95.59" y2="112.20" stroke="#ff0000" stroke-width="1.00" stroke-dasharray="1.2,0.9"/><line x1="94.39" y1="92.50" x2="96.79" y2="92.50" stroke="#ff0000" stroke-width="0.80"/><line x1="94.39" y1="112.20" x2="96.79" y2="112.20" stroke="#ff0000" stroke-width="0.80"/><line x1="108.12" y1="108.30" x2="108.12" y2="138.40" stroke="#ff0000" stroke-width="1.00" stroke-dasharray="1.2,0.9"/><line x1="106.92" y1="108.30" x2="109.32" y2="108.30" stroke="#ff0000" stroke-width="0.80"/><line x1="106.92" y1="138.40" x2="109.32" y2="138.40" stroke="#ff0000" stroke-width="0.80"/><line x1="120.64" y1="102.30" x2="120.64" y2="128.60" stroke="#ff0000" stroke-width="1.00" stroke-dasharray="1.2,0.9"/><line x1="119.44" y1="102.30" x2="121.84" y2="102.30" stroke="#ff0000" stroke-width="0.80"/><line x1="119.44" y1="128.60" x2="121.84" y2="128.60" stroke="#ff0000" stroke-width="0.80"/><line x1="133.16" y1="109.20" x2="133.16" y2="139.00" stroke="#ff0000" stroke-width="1.00" stroke-dasharray="1.2,0.9"/><line x1="131.96" y1="109.20" x2="134.36" y2="109.20" stroke="#ff0000" stroke-width="0.80"/><line x1="131.96" y1="139.00" x2="134.36" y2="139.00" stroke="#ff0000" stroke-width="0.80"/><line x1="145.68" y1="99.60" x2="145.68" y2="125.00" stroke="#ff0000" stroke-width="1.00" stroke-dasharray="1.2,0.9"/><line x1="144.48" y1="99.60" x2="146.88" y2="99.60" stroke="#ff0000" stroke-width="0.80"/><line x1="144.48" y1="125.00" x2="146.88" y2="125.00" stroke="#ff0000" stroke-width="0.80"/><line x1="158.21" y1="126.90" x2="158.21" y2="172.20" stroke="#ff0000" stroke-width="1.00" stroke-dasharray="1.2,0.9"/><line x1="157.01" y1="126.90" x2="159.41" y2="126.90" stroke="#ff0000" stroke-width="0.80"/><line x1="157.01" y1="172.20" x2="159.41" y2="172.20" stroke="#ff0000" stroke-width="0.80"/><line x1="183.25" y1="125.00" x2="183.25" y2="477.90" stroke="#ff0000" stroke-width="1.00" stroke-dasharray="1.2,0.9"/><line x1="182.05" y1="125.00" x2="184.45" y2="125.00" stroke="#ff0000" stroke-width="0.80"/><line x1="182.05" y1="477.90" x2="184.45" y2="477.90" stroke="#ff0000" stroke-width="0.80"/><line x1="195.78" y1="123.40" x2="195.78" y2="171.60" stroke="#ff0000" stroke-width="1.00" stroke-dasharray="1.2,0.9"/><line x1="194.58" y1="123.40" x2="196.98" y2="123.40" stroke="#ff0000" stroke-width="0.80"/><line x1="194.58" y1="171.60" x2="196.98" y2="171.60" stroke="#ff0000" stroke-width="0.80"/><line x1="233.35" y1="147.60" x2="233.35" y2="477.90" stroke="#ff0000" stroke-width="1.00" stroke-dasharray="1.2,0.9"/><line x1="232.15" y1="147.60" x2="234.55" y2="147.60" stroke="#ff0000" stroke-width="0.80"/><line x1="232.15" y1="477.90" x2="234.55" y2="477.90" stroke="#ff0000" stroke-width="0.80"/><line x1="258.39" y1="126.00" x2="258.39" y2="174.30" stroke="#ff0000" stroke-width="1.00" stroke-dasharray="1.2,0.9"/><line x1="257.19" y1="126.00" x2="259.59" y2="126.00" stroke="#ff0000" stroke-width="0.80"/><line x1="257.19" y1="174.30" x2="259.59" y2="174.30" stroke="#ff0000" stroke-width="0.80"/><line x1="283.44" y1="142.50" x2="283.44" y2="477.90" stroke="#ff0000" stroke-width="1.00" stroke-dasharray="1.2,0.9"/><line x1="282.24" y1="142.50" x2="284.64" y2="142.50" stroke="#ff0000" stroke-width="0.80"/><line x1="282.24" y1="477.90" x2="284.64" y2="477.90" stroke="#ff0000" stroke-width="0.80"/><line x1="321.01" y1="124.70" x2="321.01" y2="477.90" stroke="#ff0000" stroke-width="1.00" stroke-dasharray="1.2,0.9"/><line x1="319.81" y1="124.70" x2="322.21" y2="124.70" stroke="#ff0000" stroke-width="0.80"/><line x1="319.81" y1="477.90" x2="322.21" y2="477.90" stroke="#ff0000" stroke-width="0.80"/><line x1="346.05" y1="140.00" x2="346.05" y2="477.90" stroke="#ff0000" stroke-width="1.00" stroke-dasharray="1.2,0.9"/><line x1="344.85" y1="140.00" x2="347.25" y2="140.00" stroke="#ff0000" stroke-width="0.80"/><line x1="344.85" y1="477.90" x2="347.25" y2="477.90" stroke="#ff0000" stroke-width="0.80"/><path d="M70.55,109.00 L73.15,112.30 L70.55,115.60 L67.95,112.30 Z" fill="#ff0000"/><path d="M83.07,118.00 L85.67,121.30 L83.07,124.60 L80.47,121.30 Z" fill="#ff0000"/><path d="M95.59,97.50 L98.19,100.80 L95.59,104.10 L92.99,100.80 Z" fill="#ff0000"/><path d="M108.12,115.60 L110.72,118.90 L108.12,122.20 L105.52,118.90 Z" fill="#ff0000"/><path d="M120.64,109.10 L123.24,112.40 L120.64,115.70 L118.04,112.40 Z" fill="#ff0000"/><path d="M133.16,116.70 L135.76,120.00 L133.16,123.30 L130.56,120.00 Z" fill="#ff0000"/><path d="M145.68,106.60 L148.28,109.90 L145.68,113.20 L143.08,109.90 Z" fill="#ff0000"/><path d="M158.21,137.20 L160.81,140.50 L158.21,143.80 L155.61,140.50 Z" fill="#ff0000"/><path d="M183.25,139.20 L185.85,142.50 L183.25,145.80 L180.65,142.50 Z" fill="#ff0000"/><path d="M195.78,134.30 L198.38,137.60 L195.78,140.90 L193.18,137.60 Z" fill="#ff0000"/><path d="M233.35,162.10 L235.95,165.40 L233.35,168.70 L230.75,165.40 Z" fill="#ff0000"/><path d="M258.39,136.70 L260.99,140.00 L258.39,143.30 L255.79,140.00 Z" fill="#ff0000"/><path d="M283.44,157.10 L286.04,160.40 L283.44,163.70 L280.84,160.40 Z" fill="#ff0000"/><path d="M321.01,139.40 L323.61,142.70 L321.01,146.00 L318.41,142.70 Z" fill="#ff0000"/><path d="M346.05,153.70 L348.65,157.00 L346.05,160.30 L343.45,157.00 Z" fill="#ff0000"/></g>
<g clip-path="url(#cr)"><polyline points="58.02,261.69 70.55,288.42 83.07,304.86 95.59,352.82 108.12,388.79 120.64,416.54 133.16,424.08 145.68,429.22 158.21,432.64 170.73,435.38 183.25,439.50 195.78,430.59 208.30,430.25 220.82,436.41 233.35,426.48 245.87,431.27 258.39,449.77 270.92,479.92 283.44,474.10 295.96,459.71 308.48,506.30 321.01,510.07 333.53,471.01 346.05,506.30 358.58,498.08" fill="none" stroke="#cc3366" stroke-width="0.90" stroke-dasharray="1,1.6" stroke-linejoin="round"/><line x1="95.59" y1="349.40" x2="95.59" y2="356.25" stroke="#cc3366" stroke-width="1.00" stroke-dasharray="1,1.6"/><line x1="94.09" y1="349.40" x2="97.09" y2="349.40" stroke="#cc3366" stroke-width="1.00"/><line x1="94.09" y1="356.25" x2="97.09" y2="356.25" stroke="#cc3366" stroke-width="1.00"/><line x1="108.12" y1="385.71" x2="108.12" y2="391.88" stroke="#cc3366" stroke-width="1.00" stroke-dasharray="1,1.6"/><line x1="106.62" y1="385.71" x2="109.62" y2="385.71" stroke="#cc3366" stroke-width="1.00"/><line x1="106.62" y1="391.88" x2="109.62" y2="391.88" stroke="#cc3366" stroke-width="1.00"/><line x1="120.64" y1="413.46" x2="120.64" y2="419.63" stroke="#cc3366" stroke-width="1.00" stroke-dasharray="1,1.6"/><line x1="119.14" y1="413.46" x2="122.14" y2="413.46" stroke="#cc3366" stroke-width="1.00"/><line x1="119.14" y1="419.63" x2="122.14" y2="419.63" stroke="#cc3366" stroke-width="1.00"/><line x1="133.16" y1="421.00" x2="133.16" y2="427.16" stroke="#cc3366" stroke-width="1.00" stroke-dasharray="1,1.6"/><line x1="131.66" y1="421.00" x2="134.66" y2="421.00" stroke="#cc3366" stroke-width="1.00"/><line x1="131.66" y1="427.16" x2="134.66" y2="427.16" stroke="#cc3366" stroke-width="1.00"/><line x1="145.68" y1="425.79" x2="145.68" y2="432.64" stroke="#cc3366" stroke-width="1.00" stroke-dasharray="1,1.6"/><line x1="144.18" y1="425.79" x2="147.18" y2="425.79" stroke="#cc3366" stroke-width="1.00"/><line x1="144.18" y1="432.64" x2="147.18" y2="432.64" stroke="#cc3366" stroke-width="1.00"/><line x1="158.21" y1="428.88" x2="158.21" y2="436.41" stroke="#cc3366" stroke-width="1.00" stroke-dasharray="1,1.6"/><line x1="156.71" y1="428.88" x2="159.71" y2="428.88" stroke="#cc3366" stroke-width="1.00"/><line x1="156.71" y1="436.41" x2="159.71" y2="436.41" stroke="#cc3366" stroke-width="1.00"/><line x1="170.73" y1="430.93" x2="170.73" y2="439.84" stroke="#cc3366" stroke-width="1.00" stroke-dasharray="1,1.6"/><line x1="169.23" y1="430.93" x2="172.23" y2="430.93" stroke="#cc3366" stroke-width="1.00"/><line x1="169.23" y1="439.84" x2="172.23" y2="439.84" stroke="#cc3366" stroke-width="1.00"/><line x1="183.25" y1="431.27" x2="183.25" y2="447.72" stroke="#cc3366" stroke-width="1.00" stroke-dasharray="1,1.6"/><line x1="181.75" y1="431.27" x2="184.75" y2="431.27" stroke="#cc3366" stroke-width="1.00"/><line x1="181.75" y1="447.72" x2="184.75" y2="447.72" stroke="#cc3366" stroke-width="1.00"/><line x1="195.78" y1="421.00" x2="195.78" y2="440.18" stroke="#cc3366" stroke-width="1.00" stroke-dasharray="1,1.6"/><line x1="194.28" y1="421.00" x2="197.28" y2="421.00" stroke="#cc3366" stroke-width="1.00"/><line x1="194.28" y1="440.18" x2="197.28" y2="440.18" stroke="#cc3366" stroke-width="1.00"/><line x1="208.30" y1="419.63" x2="208.30" y2="440.87" stroke="#cc3366" stroke-width="1.00" stroke-dasharray="1,1.6"/><line x1="206.80" y1="419.63" x2="209.80" y2="419.63" stroke="#cc3366" stroke-width="1.00"/><line x1="206.80" y1="440.87" x2="209.80" y2="440.87" stroke="#cc3366" stroke-width="1.00"/><line x1="220.82" y1="424.08" x2="220.82" y2="448.74" stroke="#cc3366" stroke-width="1.00" stroke-dasharray="1,1.6"/><line x1="219.32" y1="424.08" x2="222.32" y2="424.08" stroke="#cc3366" stroke-width="1.00"/><line x1="219.32" y1="448.74" x2="222.32" y2="448.74" stroke="#cc3366" stroke-width="1.00"/><line x1="233.35" y1="412.77" x2="233.35" y2="440.18" stroke="#cc3366" stroke-width="1.00" stroke-dasharray="1,1.6"/><line x1="231.85" y1="412.77" x2="234.85" y2="412.77" stroke="#cc3366" stroke-width="1.00"/><line x1="231.85" y1="440.18" x2="234.85" y2="440.18" stroke="#cc3366" stroke-width="1.00"/><line x1="245.87" y1="416.88" x2="245.87" y2="445.66" stroke="#cc3366" stroke-width="1.00" stroke-dasharray="1,1.6"/><line x1="244.37" y1="416.88" x2="247.37" y2="416.88" stroke="#cc3366" stroke-width="1.00"/><line x1="244.37" y1="445.66" x2="247.37" y2="445.66" stroke="#cc3366" stroke-width="1.00"/><line x1="258.39" y1="435.04" x2="258.39" y2="464.50" stroke="#cc3366" stroke-width="1.00" stroke-dasharray="1,1.6"/><line x1="256.89" y1="435.04" x2="259.89" y2="435.04" stroke="#cc3366" stroke-width="1.00"/><line x1="256.89" y1="464.50" x2="259.89" y2="464.50" stroke="#cc3366" stroke-width="1.00"/><line x1="283.44" y1="457.65" x2="283.44" y2="490.54" stroke="#cc3366" stroke-width="1.00" stroke-dasharray="1,1.6"/><line x1="281.94" y1="457.65" x2="284.94" y2="457.65" stroke="#cc3366" stroke-width="1.00"/><line x1="281.94" y1="490.54" x2="284.94" y2="490.54" stroke="#cc3366" stroke-width="1.00"/><line x1="295.96" y1="441.55" x2="295.96" y2="477.86" stroke="#cc3366" stroke-width="1.00" stroke-dasharray="1,1.6"/><line x1="294.46" y1="441.55" x2="297.46" y2="441.55" stroke="#cc3366" stroke-width="1.00"/><line x1="294.46" y1="477.86" x2="297.46" y2="477.86" stroke="#cc3366" stroke-width="1.00"/><line x1="333.53" y1="447.03" x2="333.53" y2="494.99" stroke="#cc3366" stroke-width="1.00" stroke-dasharray="1,1.6"/><line x1="332.03" y1="447.03" x2="335.03" y2="447.03" stroke="#cc3366" stroke-width="1.00"/><line x1="332.03" y1="494.99" x2="335.03" y2="494.99" stroke="#cc3366" stroke-width="1.00"/><path d="M55.42,263.71 L60.62,263.71 L58.02,258.91 Z" fill="none" stroke="#cc3366" stroke-width="1.2"/><path d="M67.95,290.43 L73.15,290.43 L70.55,285.63 Z" fill="none" stroke="#cc3366" stroke-width="1.2"/><path d="M80.47,306.88 L85.67,306.88 L83.07,302.08 Z" fill="none" stroke="#cc3366" stroke-width="1.2"/><path d="M92.99,354.84 L98.19,354.84 L95.59,350.04 Z" fill="none" stroke="#cc3366" stroke-width="1.2"/><path d="M105.52,390.81 L110.72,390.81 L108.12,386.01 Z" fill="none" stroke="#cc3366" stroke-width="1.2"/><path d="M118.04,418.56 L123.24,418.56 L120.64,413.76 Z" fill="none" stroke="#cc3366" stroke-width="1.2"/><path d="M130.56,426.09 L135.76,426.09 L133.16,421.29 Z" fill="none" stroke="#cc3366" stroke-width="1.2"/><path d="M143.08,431.23 L148.28,431.23 L145.68,426.43 Z" fill="none" stroke="#cc3366" stroke-width="1.2"/><path d="M155.61,434.66 L160.81,434.66 L158.21,429.86 Z" fill="none" stroke="#cc3366" stroke-width="1.2"/><path d="M168.13,437.40 L173.33,437.40 L170.73,432.60 Z" fill="none" stroke="#cc3366" stroke-width="1.2"/><path d="M180.65,441.51 L185.85,441.51 L183.25,436.71 Z" fill="none" stroke="#cc3366" stroke-width="1.2"/><path d="M193.18,432.60 L198.38,432.60 L195.78,427.80 Z" fill="none" stroke="#cc3366" stroke-width="1.2"/><path d="M205.70,432.26 L210.90,432.26 L208.30,427.46 Z" fill="none" stroke="#cc3366" stroke-width="1.2"/><path d="M218.22,438.43 L223.42,438.43 L220.82,433.63 Z" fill="none" stroke="#cc3366" stroke-width="1.2"/><path d="M230.75,428.49 L235.95,428.49 L233.35,423.69 Z" fill="none" stroke="#cc3366" stroke-width="1.2"/><path d="M243.27,433.29 L248.47,433.29 L245.87,428.49 Z" fill="none" stroke="#cc3366" stroke-width="1.2"/><path d="M255.79,451.79 L260.99,451.79 L258.39,446.99 Z" fill="none" stroke="#cc3366" stroke-width="1.2"/><path d="M268.32,481.94 L273.52,481.94 L270.92,477.14 Z" fill="none" stroke="#cc3366" stroke-width="1.2"/><path d="M280.84,476.11 L286.04,476.11 L283.44,471.31 Z" fill="none" stroke="#cc3366" stroke-width="1.2"/><path d="M293.36,461.72 L298.56,461.72 L295.96,456.92 Z" fill="none" stroke="#cc3366" stroke-width="1.2"/><path d="M305.88,508.31 L311.08,508.31 L308.48,503.51 Z" fill="none" stroke="#cc3366" stroke-width="1.2"/><path d="M318.41,512.08 L323.61,512.08 L321.01,507.28 Z" fill="none" stroke="#cc3366" stroke-width="1.2"/><path d="M330.93,473.03 L336.13,473.03 L333.53,468.23 Z" fill="none" stroke="#cc3366" stroke-width="1.2"/><path d="M343.45,508.31 L348.65,508.31 L346.05,503.51 Z" fill="none" stroke="#cc3366" stroke-width="1.2"/><path d="M355.98,500.09 L361.18,500.09 L358.58,495.29 Z" fill="none" stroke="#cc3366" stroke-width="1.2"/></g>
<g clip-path="url(#cr)"><polyline points="58.02,280.19 70.55,328.84 83.07,351.79 95.59,378.52 108.12,396.67 120.64,401.47 133.16,395.30 145.68,398.73 158.21,398.73 170.73,399.07 183.25,409.01 195.78,416.54 208.30,421.68 220.82,416.88 233.35,416.54 245.87,437.44 258.39,441.89 270.92,439.50 283.44,471.01 295.96,475.12 308.48,452.86 321.01,476.84 333.53,460.05 346.05,468.27 358.58,502.19" fill="none" stroke="#339911" stroke-width="1.20" stroke-dasharray="3,2" stroke-linejoin="round"/><line x1="70.55" y1="322.67" x2="70.55" y2="335.01" stroke="#339911" stroke-width="1.00" stroke-dasharray="3,2"/><line x1="69.05" y1="322.67" x2="72.05" y2="322.67" stroke="#339911" stroke-width="1.00"/><line x1="69.05" y1="335.01" x2="72.05" y2="335.01" stroke="#339911" stroke-width="1.00"/><line x1="83.07" y1="348.09" x2="83.07" y2="355.49" stroke="#339911" stroke-width="1.00" stroke-dasharray="3,2"/><line x1="81.57" y1="348.09" x2="84.57" y2="348.09" stroke="#339911" stroke-width="1.00"/><line x1="81.57" y1="355.49" x2="84.57" y2="355.49" stroke="#339911" stroke-width="1.00"/><line x1="95.59" y1="375.43" x2="95.59" y2="381.60" stroke="#339911" stroke-width="1.00" stroke-dasharray="3,2"/><line x1="94.09" y1="375.43" x2="97.09" y2="375.43" stroke="#339911" stroke-width="1.00"/><line x1="94.09" y1="381.60" x2="97.09" y2="381.60" stroke="#339911" stroke-width="1.00"/><line x1="108.12" y1="393.90" x2="108.12" y2="399.45" stroke="#339911" stroke-width="1.00" stroke-dasharray="3,2"/><line x1="106.62" y1="393.90" x2="109.62" y2="393.90" stroke="#339911" stroke-width="1.00"/><line x1="106.62" y1="399.45" x2="109.62" y2="399.45" stroke="#339911" stroke-width="1.00"/><line x1="120.64" y1="398.69" x2="120.64" y2="404.24" stroke="#339911" stroke-width="1.00" stroke-dasharray="3,2"/><line x1="119.14" y1="398.69" x2="122.14" y2="398.69" stroke="#339911" stroke-width="1.00"/><line x1="119.14" y1="404.24" x2="122.14" y2="404.24" stroke="#339911" stroke-width="1.00"/><line x1="133.16" y1="392.53" x2="133.16" y2="398.08" stroke="#339911" stroke-width="1.00" stroke-dasharray="3,2"/><line x1="131.66" y1="392.53" x2="134.66" y2="392.53" stroke="#339911" stroke-width="1.00"/><line x1="131.66" y1="398.08" x2="134.66" y2="398.08" stroke="#339911" stroke-width="1.00"/><line x1="145.68" y1="395.64" x2="145.68" y2="401.81" stroke="#339911" stroke-width="1.00" stroke-dasharray="3,2"/><line x1="144.18" y1="395.64" x2="147.18" y2="395.64" stroke="#339911" stroke-width="1.00"/><line x1="144.18" y1="401.81" x2="147.18" y2="401.81" stroke="#339911" stroke-width="1.00"/><line x1="158.21" y1="395.34" x2="158.21" y2="402.12" stroke="#339911" stroke-width="1.00" stroke-dasharray="3,2"/><line x1="156.71" y1="395.34" x2="159.71" y2="395.34" stroke="#339911" stroke-width="1.00"/><line x1="156.71" y1="402.12" x2="159.71" y2="402.12" stroke="#339911" stroke-width="1.00"/><line x1="170.73" y1="395.06" x2="170.73" y2="403.08" stroke="#339911" stroke-width="1.00" stroke-dasharray="3,2"/><line x1="169.23" y1="395.06" x2="172.23" y2="395.06" stroke="#339911" stroke-width="1.00"/><line x1="169.23" y1="403.08" x2="172.23" y2="403.08" stroke="#339911" stroke-width="1.00"/><line x1="183.25" y1="401.61" x2="183.25" y2="416.41" stroke="#339911" stroke-width="1.00" stroke-dasharray="3,2"/><line x1="181.75" y1="401.61" x2="184.75" y2="401.61" stroke="#339911" stroke-width="1.00"/><line x1="181.75" y1="416.41" x2="184.75" y2="416.41" stroke="#339911" stroke-width="1.00"/><line x1="195.78" y1="407.91" x2="195.78" y2="425.18" stroke="#339911" stroke-width="1.00" stroke-dasharray="3,2"/><line x1="194.28" y1="407.91" x2="197.28" y2="407.91" stroke="#339911" stroke-width="1.00"/><line x1="194.28" y1="425.18" x2="197.28" y2="425.18" stroke="#339911" stroke-width="1.00"/><line x1="208.30" y1="412.12" x2="208.30" y2="431.24" stroke="#339911" stroke-width="1.00" stroke-dasharray="3,2"/><line x1="206.80" y1="412.12" x2="209.80" y2="412.12" stroke="#339911" stroke-width="1.00"/><line x1="206.80" y1="431.24" x2="209.80" y2="431.24" stroke="#339911" stroke-width="1.00"/><line x1="220.82" y1="405.78" x2="220.82" y2="427.98" stroke="#339911" stroke-width="1.00" stroke-dasharray="3,2"/><line x1="219.32" y1="405.78" x2="222.32" y2="405.78" stroke="#339911" stroke-width="1.00"/><line x1="219.32" y1="427.98" x2="222.32" y2="427.98" stroke="#339911" stroke-width="1.00"/><line x1="233.35" y1="404.21" x2="233.35" y2="428.88" stroke="#339911" stroke-width="1.00" stroke-dasharray="3,2"/><line x1="231.85" y1="404.21" x2="234.85" y2="404.21" stroke="#339911" stroke-width="1.00"/><line x1="231.85" y1="428.88" x2="234.85" y2="428.88" stroke="#339911" stroke-width="1.00"/><line x1="245.87" y1="424.49" x2="245.87" y2="450.39" stroke="#339911" stroke-width="1.00" stroke-dasharray="3,2"/><line x1="244.37" y1="424.49" x2="247.37" y2="424.49" stroke="#339911" stroke-width="1.00"/><line x1="244.37" y1="450.39" x2="247.37" y2="450.39" stroke="#339911" stroke-width="1.00"/><line x1="258.39" y1="428.64" x2="258.39" y2="455.15" stroke="#339911" stroke-width="1.00" stroke-dasharray="3,2"/><line x1="256.89" y1="428.64" x2="259.89" y2="428.64" stroke="#339911" stroke-width="1.00"/><line x1="256.89" y1="455.15" x2="259.89" y2="455.15" stroke="#339911" stroke-width="1.00"/><line x1="270.92" y1="424.70" x2="270.92" y2="454.29" stroke="#339911" stroke-width="1.00" stroke-dasharray="3,2"/><line x1="269.42" y1="424.70" x2="272.42" y2="424.70" stroke="#339911" stroke-width="1.00"/><line x1="269.42" y1="454.29" x2="272.42" y2="454.29" stroke="#339911" stroke-width="1.00"/><line x1="283.44" y1="456.21" x2="283.44" y2="485.81" stroke="#339911" stroke-width="1.00" stroke-dasharray="3,2"/><line x1="281.94" y1="456.21" x2="284.94" y2="456.21" stroke="#339911" stroke-width="1.00"/><line x1="281.94" y1="485.81" x2="284.94" y2="485.81" stroke="#339911" stroke-width="1.00"/><line x1="295.96" y1="458.78" x2="295.96" y2="491.46" stroke="#339911" stroke-width="1.00" stroke-dasharray="3,2"/><line x1="294.46" y1="458.78" x2="297.46" y2="458.78" stroke="#339911" stroke-width="1.00"/><line x1="294.46" y1="491.46" x2="297.46" y2="491.46" stroke="#339911" stroke-width="1.00"/><line x1="308.48" y1="435.13" x2="308.48" y2="470.58" stroke="#339911" stroke-width="1.00" stroke-dasharray="3,2"/><line x1="306.98" y1="435.13" x2="309.98" y2="435.13" stroke="#339911" stroke-width="1.00"/><line x1="306.98" y1="470.58" x2="309.98" y2="470.58" stroke="#339911" stroke-width="1.00"/><line x1="321.01" y1="458.34" x2="321.01" y2="495.34" stroke="#339911" stroke-width="1.00" stroke-dasharray="3,2"/><line x1="319.51" y1="458.34" x2="322.51" y2="458.34" stroke="#339911" stroke-width="1.00"/><line x1="319.51" y1="495.34" x2="322.51" y2="495.34" stroke="#339911" stroke-width="1.00"/><line x1="333.53" y1="438.47" x2="333.53" y2="481.63" stroke="#339911" stroke-width="1.00" stroke-dasharray="3,2"/><line x1="332.03" y1="438.47" x2="335.03" y2="438.47" stroke="#339911" stroke-width="1.00"/><line x1="332.03" y1="481.63" x2="335.03" y2="481.63" stroke="#339911" stroke-width="1.00"/><line x1="346.05" y1="448.85" x2="346.05" y2="487.70" stroke="#339911" stroke-width="1.00" stroke-dasharray="3,2"/><line x1="344.55" y1="448.85" x2="347.55" y2="448.85" stroke="#339911" stroke-width="1.00"/><line x1="344.55" y1="487.70" x2="347.55" y2="487.70" stroke="#339911" stroke-width="1.00"/><rect x="55.52" y="277.69" width="5" height="5" fill="none" stroke="#339911" stroke-width="1.2"/><rect x="68.05" y="326.34" width="5" height="5" fill="none" stroke="#339911" stroke-width="1.2"/><rect x="80.57" y="349.29" width="5" height="5" fill="none" stroke="#339911" stroke-width="1.2"/><rect x="93.09" y="376.02" width="5" height="5" fill="none" stroke="#339911" stroke-width="1.2"/><rect x="105.62" y="394.17" width="5" height="5" fill="none" stroke="#339911" stroke-width="1.2"/><rect x="118.14" y="398.97" width="5" height="5" fill="none" stroke="#339911" stroke-width="1.2"/><rect x="130.66" y="392.80" width="5" height="5" fill="none" stroke="#339911" stroke-width="1.2"/><rect x="143.18" y="396.23" width="5" height="5" fill="none" stroke="#339911" stroke-width="1.2"/><rect x="155.71" y="396.23" width="5" height="5" fill="none" stroke="#339911" stroke-width="1.2"/><rect x="168.23" y="396.57" width="5" height="5" fill="none" stroke="#339911" stroke-width="1.2"/><rect x="180.75" y="406.51" width="5" height="5" fill="none" stroke="#339911" stroke-width="1.2"/><rect x="193.28" y="414.04" width="5" height="5" fill="none" stroke="#339911" stroke-width="1.2"/><rect x="205.80" y="419.18" width="5" height="5" fill="none" stroke="#339911" stroke-width="1.2"/><rect x="218.32" y="414.38" width="5" height="5" fill="none" stroke="#339911" stroke-width="1.2"/><rect x="230.85" y="414.04" width="5" height="5" fill="none" stroke="#339911" stroke-width="1.2"/><rect x="243.37" y="434.94" width="5" height="5" fill="none" stroke="#339911" stroke-width="1.2"/><rect x="255.89" y="439.39" width="5" height="5" fill="none" stroke="#339911" stroke-width="1.2"/><rect x="268.42" y="437.00" width="5" height="5" fill="none" stroke="#339911" stroke-width="1.2"/><rect x="280.94" y="468.51" width="5" height="5" fill="none" stroke="#339911" stroke-width="1.2"/><rect x="293.46" y="472.62" width="5" height="5" fill="none" stroke="#339911" stroke-width="1.2"/><rect x="305.98" y="450.36" width="5" height="5" fill="none" stroke="#339911" stroke-width="1.2"/><rect x="318.51" y="474.34" width="5" height="5" fill="none" stroke="#339911" stroke-width="1.2"/><rect x="331.03" y="457.55" width="5" height="5" fill="none" stroke="#339911" stroke-width="1.2"/><rect x="343.55" y="465.77" width="5" height="5" fill="none" stroke="#339911" stroke-width="1.2"/><rect x="356.08" y="499.69" width="5" height="5" fill="none" stroke="#339911" stroke-width="1.2"/></g>
<g clip-path="url(#cr)"><polyline points="58.02,302.12 70.55,342.89 83.07,354.88 95.59,365.15 108.12,389.82 120.64,398.73 133.16,397.36 145.68,408.66 158.21,410.38 170.73,424.42 183.25,429.90 195.78,434.01 208.30,437.78 220.82,435.73 233.35,412.09 245.87,440.52 258.39,418.94 270.92,423.74 283.44,422.71 295.96,434.01 308.48,436.75 321.01,447.72 333.53,449.43 346.05,432.30 358.58,463.13" fill="none" stroke="#0000ff" stroke-width="1.20" stroke-linejoin="round"/><line x1="70.55" y1="336.04" x2="70.55" y2="349.74" stroke="#0000ff" stroke-width="1.10"/><line x1="69.05" y1="336.04" x2="72.05" y2="336.04" stroke="#0000ff" stroke-width="1.00"/><line x1="69.05" y1="349.74" x2="72.05" y2="349.74" stroke="#0000ff" stroke-width="1.00"/><line x1="83.07" y1="350.77" x2="83.07" y2="358.99" stroke="#0000ff" stroke-width="1.10"/><line x1="81.57" y1="350.77" x2="84.57" y2="350.77" stroke="#0000ff" stroke-width="1.00"/><line x1="81.57" y1="358.99" x2="84.57" y2="358.99" stroke="#0000ff" stroke-width="1.00"/><line x1="95.59" y1="361.73" x2="95.59" y2="368.58" stroke="#0000ff" stroke-width="1.10"/><line x1="94.09" y1="361.73" x2="97.09" y2="361.73" stroke="#0000ff" stroke-width="1.00"/><line x1="94.09" y1="368.58" x2="97.09" y2="368.58" stroke="#0000ff" stroke-width="1.00"/><line x1="108.12" y1="386.74" x2="108.12" y2="392.90" stroke="#0000ff" stroke-width="1.10"/><line x1="106.62" y1="386.74" x2="109.62" y2="386.74" stroke="#0000ff" stroke-width="1.00"/><line x1="106.62" y1="392.90" x2="109.62" y2="392.90" stroke="#0000ff" stroke-width="1.00"/><line x1="120.64" y1="395.64" x2="120.64" y2="401.81" stroke="#0000ff" stroke-width="1.10"/><line x1="119.14" y1="395.64" x2="122.14" y2="395.64" stroke="#0000ff" stroke-width="1.00"/><line x1="119.14" y1="401.81" x2="122.14" y2="401.81" stroke="#0000ff" stroke-width="1.00"/><line x1="133.16" y1="394.27" x2="133.16" y2="400.44" stroke="#0000ff" stroke-width="1.10"/><line x1="131.66" y1="394.27" x2="134.66" y2="394.27" stroke="#0000ff" stroke-width="1.00"/><line x1="131.66" y1="400.44" x2="134.66" y2="400.44" stroke="#0000ff" stroke-width="1.00"/><line x1="145.68" y1="405.24" x2="145.68" y2="412.09" stroke="#0000ff" stroke-width="1.10"/><line x1="144.18" y1="405.24" x2="147.18" y2="405.24" stroke="#0000ff" stroke-width="1.00"/><line x1="144.18" y1="412.09" x2="147.18" y2="412.09" stroke="#0000ff" stroke-width="1.00"/><line x1="158.21" y1="406.61" x2="158.21" y2="414.14" stroke="#0000ff" stroke-width="1.10"/><line x1="156.71" y1="406.61" x2="159.71" y2="406.61" stroke="#0000ff" stroke-width="1.00"/><line x1="156.71" y1="414.14" x2="159.71" y2="414.14" stroke="#0000ff" stroke-width="1.00"/><line x1="170.73" y1="419.97" x2="170.73" y2="428.88" stroke="#0000ff" stroke-width="1.10"/><line x1="169.23" y1="419.97" x2="172.23" y2="419.97" stroke="#0000ff" stroke-width="1.00"/><line x1="169.23" y1="428.88" x2="172.23" y2="428.88" stroke="#0000ff" stroke-width="1.00"/><line x1="183.25" y1="421.68" x2="183.25" y2="438.12" stroke="#0000ff" stroke-width="1.10"/><line x1="181.75" y1="421.68" x2="184.75" y2="421.68" stroke="#0000ff" stroke-width="1.00"/><line x1="181.75" y1="438.12" x2="184.75" y2="438.12" stroke="#0000ff" stroke-width="1.00"/><line x1="195.78" y1="424.42" x2="195.78" y2="443.61" stroke="#0000ff" stroke-width="1.10"/><line x1="194.28" y1="424.42" x2="197.28" y2="424.42" stroke="#0000ff" stroke-width="1.00"/><line x1="194.28" y1="443.61" x2="197.28" y2="443.61" stroke="#0000ff" stroke-width="1.00"/><line x1="208.30" y1="427.16" x2="208.30" y2="448.40" stroke="#0000ff" stroke-width="1.10"/><line x1="206.80" y1="427.16" x2="209.80" y2="427.16" stroke="#0000ff" stroke-width="1.00"/><line x1="206.80" y1="448.40" x2="209.80" y2="448.40" stroke="#0000ff" stroke-width="1.00"/><line x1="220.82" y1="423.39" x2="220.82" y2="448.06" stroke="#0000ff" stroke-width="1.10"/><line x1="219.32" y1="423.39" x2="222.32" y2="423.39" stroke="#0000ff" stroke-width="1.00"/><line x1="219.32" y1="448.06" x2="222.32" y2="448.06" stroke="#0000ff" stroke-width="1.00"/><line x1="233.35" y1="398.39" x2="233.35" y2="425.79" stroke="#0000ff" stroke-width="1.10"/><line x1="231.85" y1="398.39" x2="234.85" y2="398.39" stroke="#0000ff" stroke-width="1.00"/><line x1="231.85" y1="425.79" x2="234.85" y2="425.79" stroke="#0000ff" stroke-width="1.00"/><line x1="245.87" y1="426.13" x2="245.87" y2="454.91" stroke="#0000ff" stroke-width="1.10"/><line x1="244.37" y1="426.13" x2="247.37" y2="426.13" stroke="#0000ff" stroke-width="1.00"/><line x1="244.37" y1="454.91" x2="247.37" y2="454.91" stroke="#0000ff" stroke-width="1.00"/><line x1="258.39" y1="404.21" x2="258.39" y2="433.67" stroke="#0000ff" stroke-width="1.10"/><line x1="256.89" y1="404.21" x2="259.89" y2="404.21" stroke="#0000ff" stroke-width="1.00"/><line x1="256.89" y1="433.67" x2="259.89" y2="433.67" stroke="#0000ff" stroke-width="1.00"/><line x1="270.92" y1="407.29" x2="270.92" y2="440.18" stroke="#0000ff" stroke-width="1.10"/><line x1="269.42" y1="407.29" x2="272.42" y2="407.29" stroke="#0000ff" stroke-width="1.00"/><line x1="269.42" y1="440.18" x2="272.42" y2="440.18" stroke="#0000ff" stroke-width="1.00"/><line x1="283.44" y1="406.26" x2="283.44" y2="439.15" stroke="#0000ff" stroke-width="1.10"/><line x1="281.94" y1="406.26" x2="284.94" y2="406.26" stroke="#0000ff" stroke-width="1.00"/><line x1="281.94" y1="439.15" x2="284.94" y2="439.15" stroke="#0000ff" stroke-width="1.00"/><line x1="295.96" y1="415.86" x2="295.96" y2="452.17" stroke="#0000ff" stroke-width="1.10"/><line x1="294.46" y1="415.86" x2="297.46" y2="415.86" stroke="#0000ff" stroke-width="1.00"/><line x1="294.46" y1="452.17" x2="297.46" y2="452.17" stroke="#0000ff" stroke-width="1.00"/><line x1="308.48" y1="417.06" x2="308.48" y2="456.45" stroke="#0000ff" stroke-width="1.10"/><line x1="306.98" y1="417.06" x2="309.98" y2="417.06" stroke="#0000ff" stroke-width="1.00"/><line x1="306.98" y1="456.45" x2="309.98" y2="456.45" stroke="#0000ff" stroke-width="1.00"/><line x1="321.01" y1="427.16" x2="321.01" y2="468.27" stroke="#0000ff" stroke-width="1.10"/><line x1="319.51" y1="427.16" x2="322.51" y2="427.16" stroke="#0000ff" stroke-width="1.00"/><line x1="319.51" y1="468.27" x2="322.51" y2="468.27" stroke="#0000ff" stroke-width="1.00"/><line x1="333.53" y1="425.45" x2="333.53" y2="473.41" stroke="#0000ff" stroke-width="1.10"/><line x1="332.03" y1="425.45" x2="335.03" y2="425.45" stroke="#0000ff" stroke-width="1.00"/><line x1="332.03" y1="473.41" x2="335.03" y2="473.41" stroke="#0000ff" stroke-width="1.00"/><line x1="346.05" y1="410.72" x2="346.05" y2="453.88" stroke="#0000ff" stroke-width="1.10"/><line x1="344.55" y1="410.72" x2="347.55" y2="410.72" stroke="#0000ff" stroke-width="1.00"/><line x1="344.55" y1="453.88" x2="347.55" y2="453.88" stroke="#0000ff" stroke-width="1.00"/><line x1="358.58" y1="437.44" x2="358.58" y2="488.83" stroke="#0000ff" stroke-width="1.10"/><line x1="357.08" y1="437.44" x2="360.08" y2="437.44" stroke="#0000ff" stroke-width="1.00"/><line x1="357.08" y1="488.83" x2="360.08" y2="488.83" stroke="#0000ff" stroke-width="1.00"/><path d="M54.92,304.56 L61.12,304.56 L58.02,298.76 Z" fill="#0000ff"/><path d="M67.45,345.32 L73.65,345.32 L70.55,339.52 Z" fill="#0000ff"/><path d="M79.97,357.31 L86.17,357.31 L83.07,351.51 Z" fill="#0000ff"/><path d="M92.49,367.59 L98.69,367.59 L95.59,361.79 Z" fill="#0000ff"/><path d="M105.02,392.26 L111.22,392.26 L108.12,386.46 Z" fill="#0000ff"/><path d="M117.54,401.16 L123.74,401.16 L120.64,395.36 Z" fill="#0000ff"/><path d="M130.06,399.79 L136.26,399.79 L133.16,393.99 Z" fill="#0000ff"/><path d="M142.58,411.10 L148.78,411.10 L145.68,405.30 Z" fill="#0000ff"/><path d="M155.11,412.81 L161.31,412.81 L158.21,407.01 Z" fill="#0000ff"/><path d="M167.63,426.86 L173.83,426.86 L170.73,421.06 Z" fill="#0000ff"/><path d="M180.15,432.34 L186.35,432.34 L183.25,426.54 Z" fill="#0000ff"/><path d="M192.68,436.45 L198.88,436.45 L195.78,430.65 Z" fill="#0000ff"/><path d="M205.20,440.22 L211.40,440.22 L208.30,434.42 Z" fill="#0000ff"/><path d="M217.72,438.16 L223.92,438.16 L220.82,432.36 Z" fill="#0000ff"/><path d="M230.25,414.52 L236.45,414.52 L233.35,408.72 Z" fill="#0000ff"/><path d="M242.77,442.96 L248.97,442.96 L245.87,437.16 Z" fill="#0000ff"/><path d="M255.29,421.38 L261.49,421.38 L258.39,415.58 Z" fill="#0000ff"/><path d="M267.82,426.17 L274.02,426.17 L270.92,420.37 Z" fill="#0000ff"/><path d="M280.34,425.14 L286.54,425.14 L283.44,419.34 Z" fill="#0000ff"/><path d="M292.86,436.45 L299.06,436.45 L295.96,430.65 Z" fill="#0000ff"/><path d="M305.38,439.19 L311.58,439.19 L308.48,433.39 Z" fill="#0000ff"/><path d="M317.91,450.15 L324.11,450.15 L321.01,444.35 Z" fill="#0000ff"/><path d="M330.43,451.87 L336.63,451.87 L333.53,446.07 Z" fill="#0000ff"/><path d="M342.95,434.74 L349.15,434.74 L346.05,428.94 Z" fill="#0000ff"/><path d="M355.48,465.57 L361.68,465.57 L358.58,459.77 Z" fill="#0000ff"/></g>
<g clip-path="url(#cr)"><polyline points="70.55,248.33 83.07,356.59 95.59,342.89 108.12,439.84 120.64,424.08 133.16,437.10 145.68,380.23 158.21,460.39 183.25,415.17 195.78,372.35 233.35,396.33 258.39,278.48 283.44,331.58 321.01,250.39 346.05,279.51" fill="none" stroke="#ff0000" stroke-width="0.90" stroke-dasharray="1.2,0.9" stroke-linejoin="round"/><line x1="83.07" y1="319.93" x2="83.07" y2="418.94" stroke="#ff0000" stroke-width="1.00" stroke-dasharray="1.2,0.9"/><line x1="81.87" y1="319.93" x2="84.27" y2="319.93" stroke="#ff0000" stroke-width="0.80"/><line x1="81.87" y1="418.94" x2="84.27" y2="418.94" stroke="#ff0000" stroke-width="0.80"/><line x1="95.59" y1="314.45" x2="95.59" y2="381.94" stroke="#ff0000" stroke-width="1.00" stroke-dasharray="1.2,0.9"/><line x1="94.39" y1="314.45" x2="96.79" y2="314.45" stroke="#ff0000" stroke-width="0.80"/><line x1="94.39" y1="381.94" x2="96.79" y2="381.94" stroke="#ff0000" stroke-width="0.80"/><line x1="108.12" y1="403.52" x2="108.12" y2="506.64" stroke="#ff0000" stroke-width="1.00" stroke-dasharray="1.2,0.9"/><line x1="106.92" y1="403.52" x2="109.32" y2="403.52" stroke="#ff0000" stroke-width="0.80"/><line x1="106.92" y1="506.64" x2="109.32" y2="506.64" stroke="#ff0000" stroke-width="0.80"/><line x1="120.64" y1="389.48" x2="120.64" y2="479.58" stroke="#ff0000" stroke-width="1.00" stroke-dasharray="1.2,0.9"/><line x1="119.44" y1="389.48" x2="121.84" y2="389.48" stroke="#ff0000" stroke-width="0.80"/><line x1="119.44" y1="479.58" x2="121.84" y2="479.58" stroke="#ff0000" stroke-width="0.80"/><line x1="133.16" y1="400.10" x2="133.16" y2="502.19" stroke="#ff0000" stroke-width="1.00" stroke-dasharray="1.2,0.9"/><line x1="131.96" y1="400.10" x2="134.36" y2="400.10" stroke="#ff0000" stroke-width="0.80"/><line x1="131.96" y1="502.19" x2="134.36" y2="502.19" stroke="#ff0000" stroke-width="0.80"/><line x1="145.68" y1="344.94" x2="145.68" y2="431.96" stroke="#ff0000" stroke-width="1.00" stroke-dasharray="1.2,0.9"/><line x1="144.48" y1="344.94" x2="146.88" y2="344.94" stroke="#ff0000" stroke-width="0.80"/><line x1="144.48" y1="431.96" x2="146.88" y2="431.96" stroke="#ff0000" stroke-width="0.80"/><line x1="158.21" y1="413.80" x2="158.21" y2="568.99" stroke="#ff0000" stroke-width="1.00" stroke-dasharray="1.2,0.9"/><line x1="157.01" y1="413.80" x2="159.41" y2="413.80" stroke="#ff0000" stroke-width="0.80"/><line x1="157.01" y1="568.99" x2="159.41" y2="568.99" stroke="#ff0000" stroke-width="0.80"/><line x1="183.25" y1="355.22" x2="183.25" y2="482.90" stroke="#ff0000" stroke-width="1.00" stroke-dasharray="1.2,0.9"/><line x1="182.05" y1="355.22" x2="184.45" y2="355.22" stroke="#ff0000" stroke-width="0.80"/><line x1="182.05" y1="482.90" x2="184.45" y2="482.90" stroke="#ff0000" stroke-width="0.80"/><line x1="195.78" y1="323.70" x2="195.78" y2="488.83" stroke="#ff0000" stroke-width="1.00" stroke-dasharray="1.2,0.9"/><line x1="194.58" y1="323.70" x2="196.98" y2="323.70" stroke="#ff0000" stroke-width="0.80"/><line x1="194.58" y1="488.83" x2="196.98" y2="488.83" stroke="#ff0000" stroke-width="0.80"/><line x1="233.35" y1="335.35" x2="233.35" y2="482.90" stroke="#ff0000" stroke-width="1.00" stroke-dasharray="1.2,0.9"/><line x1="232.15" y1="335.35" x2="234.55" y2="335.35" stroke="#ff0000" stroke-width="0.80"/><line x1="232.15" y1="482.90" x2="234.55" y2="482.90" stroke="#ff0000" stroke-width="0.80"/><line x1="283.44" y1="270.26" x2="283.44" y2="482.90" stroke="#ff0000" stroke-width="1.00" stroke-dasharray="1.2,0.9"/><line x1="282.24" y1="270.26" x2="284.64" y2="270.26" stroke="#ff0000" stroke-width="0.80"/><line x1="282.24" y1="482.90" x2="284.64" y2="482.90" stroke="#ff0000" stroke-width="0.80"/><path d="M70.55,245.03 L73.15,248.33 L70.55,251.63 L67.95,248.33 Z" fill="#ff0000"/><path d="M83.07,353.29 L85.67,356.59 L83.07,359.89 L80.47,356.59 Z" fill="#ff0000"/><path d="M95.59,339.59 L98.19,342.89 L95.59,346.19 L92.99,342.89 Z" fill="#ff0000"/><path d="M108.12,436.54 L110.72,439.84 L108.12,443.14 L105.52,439.84 Z" fill="#ff0000"/><path d="M120.64,420.78 L123.24,424.08 L120.64,427.38 L118.04,424.08 Z" fill="#ff0000"/><path d="M133.16,433.80 L135.76,437.10 L133.16,440.40 L130.56,437.10 Z" fill="#ff0000"/><path d="M145.68,376.93 L148.28,380.23 L145.68,383.53 L143.08,380.23 Z" fill="#ff0000"/><path d="M158.21,457.09 L160.81,460.39 L158.21,463.69 L155.61,460.39 Z" fill="#ff0000"/><path d="M183.25,411.87 L185.85,415.17 L183.25,418.47 L180.65,415.17 Z" fill="#ff0000"/><path d="M195.78,369.05 L198.38,372.35 L195.78,375.65 L193.18,372.35 Z" fill="#ff0000"/><path d="M233.35,393.03 L235.95,396.33 L233.35,399.63 L230.75,396.33 Z" fill="#ff0000"/><path d="M258.39,275.18 L260.99,278.48 L258.39,281.78 L255.79,278.48 Z" fill="#ff0000"/><path d="M283.44,328.28 L286.04,331.58 L283.44,334.88 L280.84,331.58 Z" fill="#ff0000"/><path d="M321.01,247.09 L323.61,250.39 L321.01,253.69 L318.41,250.39 Z" fill="#ff0000"/><path d="M346.05,276.21 L348.65,279.51 L346.05,282.81 L343.45,279.51 Z" fill="#ff0000"/></g>
<rect x="73.55" y="220.85" width="5.7" height="5.7" fill="#000"/><line x1="64" y1="237.00" x2="88.5" y2="237.00" stroke="#cc3366" stroke-width="0.90" stroke-dasharray="1,1.6"/><rect x="73" y="234.00" width="7" height="6" fill="#fff"/><path d="M73.80,239.02 L79.00,239.02 L76.40,234.22 Z" fill="none" stroke="#cc3366" stroke-width="1.2"/><line x1="64" y1="250.10" x2="88.5" y2="250.10" stroke="#339911" stroke-width="1.00" stroke-dasharray="3,2"/><rect x="73" y="247.10" width="7" height="6" fill="#fff"/><rect x="73.90" y="247.60" width="5" height="5" fill="none" stroke="#339911" stroke-width="1.2"/><line x1="64" y1="263.30" x2="88.5" y2="263.30" stroke="#0000ff" stroke-width="1.00"/><path d="M73.30,265.74 L79.50,265.74 L76.40,259.94 Z" fill="#0000ff"/><line x1="64" y1="276.20" x2="88.5" y2="276.20" stroke="#ff0000" stroke-width="0.90" stroke-dasharray="1.2,0.9"/><path d="M76.40,272.90 L79.00,276.20 L76.40,279.50 L73.80,276.20 Z" fill="#ff0000"/>
<g style='font-family:"Liberation Sans",sans-serif;will-change:transform'><text id="t13000" x="51.00" y="14.40" font-size="12.00" text-anchor="start" fill="#000">13000 GeV pp</text>
<text id="tZ" x="366.50" y="14.40" font-size="12.00" text-anchor="end" fill="#000">Z (Drell-Yan)</text>
<text id="title" x="77.00" y="41.70" font-size="12.00" text-anchor="start" fill="#000">Transverse region, 40 &lt; p<tspan dx="-2.6" dy="-5.7" font-size="8">Z</tspan><tspan dx="-4.6" dy="12.7" font-size="8">T</tspan><tspan dy="-7" dx="-0.5"> &lt; 60 [GeV], high thrust</tspan></text>
<text id="y10" x="41.00" y="60.70" font-size="12.00" text-anchor="end" fill="#000">10</text>
<text id="y1" x="40.00" y="117.80" font-size="12.00" text-anchor="end" fill="#000">1</text>
<text id="ym1" x="40.50" y="178.30" font-size="12.00" text-anchor="end" fill="#000"><tspan font-size="11">10</tspan><tspan dx="-0.8" dy="-5.5" font-size="7">&#8722;1</tspan></text>
<text id="ym2" x="38.90" y="236.90" font-size="12.00" text-anchor="end" fill="#000"><tspan font-size="11">10</tspan><tspan dx="-0.8" dy="-5.5" font-size="7">&#8722;2</tspan></text>
<text id="ym3" x="38.70" y="295.20" font-size="12.00" text-anchor="end" fill="#000"><tspan font-size="11">10</tspan><tspan dx="-0.8" dy="-5.5" font-size="7">&#8722;3</tspan></text>
<text id="r2" x="38.50" y="340.80" font-size="12.00" text-anchor="end" fill="#000">2</text>
<text id="r1" x="38.00" y="401.90" font-size="12.00" text-anchor="end" fill="#000">1</text>
<text id="r05" x="38.50" y="462.20" font-size="12.00" text-anchor="end" fill="#000">0.5</text>
<text id="rr2" x="373.00" y="340.70" font-size="12.00" text-anchor="start" fill="#000">2</text>
<text id="rr1" x="373.80" y="402.60" font-size="12.00" text-anchor="start" fill="#000">1</text>
<text id="rr05" x="373.00" y="462.10" font-size="12.00" text-anchor="start" fill="#000">0.5</text>
<text id="x1" x="120.50" y="488.70" font-size="12.00" text-anchor="middle" fill="#000">1</text>
<text id="x2" x="246.00" y="488.70" font-size="12.00" text-anchor="middle" fill="#000">2</text>
<text id="x3" x="371.00" y="488.90" font-size="12.00" text-anchor="middle" fill="#000">3</text>
<text id="xlab" x="289.00" y="500.50" font-size="12.00" text-anchor="start" fill="#000">Mean p<tspan dy="5.5" font-size="9">T</tspan><tspan dy="-5.5">/d&#951; d&#981;</tspan></text>
<text id="ylab" x="0" y="0" transform="translate(15.00,167.00) rotate(-90)" font-size="11.80" text-anchor="start" fill="#000">1/N<tspan dy="3" font-size="8">ev</tspan><tspan dy="-3"> dN</tspan><tspan dy="3" font-size="8">ev</tspan><tspan dy="-3">/d mean p</tspan><tspan dy="6.2" dx="0.5" font-size="8.5">T</tspan><tspan dy="-6.2"> [GeV]</tspan><tspan dy="-5.5" dx="-1.5" font-size="7">-1</tspan></text>
<text id="rlab" x="0" y="0" transform="translate(18.30,427.10) rotate(-90)" font-size="9.00" text-anchor="start" fill="#000">Ratio to ATLAS</text>
<text id="rivet" x="0" y="0" transform="translate(380.00,126.40) rotate(-90)" font-size="9.40" text-anchor="start" fill="#777">Rivet 4.1.0, &#8805; 1.7M events</text>
<text id="mcp" x="0" y="0" transform="translate(380.00,313.30) rotate(-90)" font-size="9.40" text-anchor="start" fill="#777">mcplots.cern.ch [arXiv:1306.3436]</text>
<text id="l0" x="93.80" y="227.20" font-size="9.40" text-anchor="start" fill="#000">ATLAS</text>
<text id="l1" x="93.80" y="240.00" font-size="9.40" text-anchor="start" fill="#000">Herwig++ Powheg 2.7.1 default</text>
<text id="l2" x="93.80" y="252.70" font-size="9.40" text-anchor="start" fill="#000">Herwig 7.2.1 default</text>
<text id="l3" x="93.80" y="265.40" font-size="9.40" text-anchor="start" fill="#000">Pythia 8.315 default</text>
<text id="l4" x="93.80" y="278.60" font-size="9.40" text-anchor="start" fill="#000">Sherpa 2.2.9 default</text>
<text id="aid" x="162.00" y="302.20" font-size="8.00" text-anchor="start" fill="#999">(ATLAS_2019_I1736531)</text></g>
</svg>
</body></html>
